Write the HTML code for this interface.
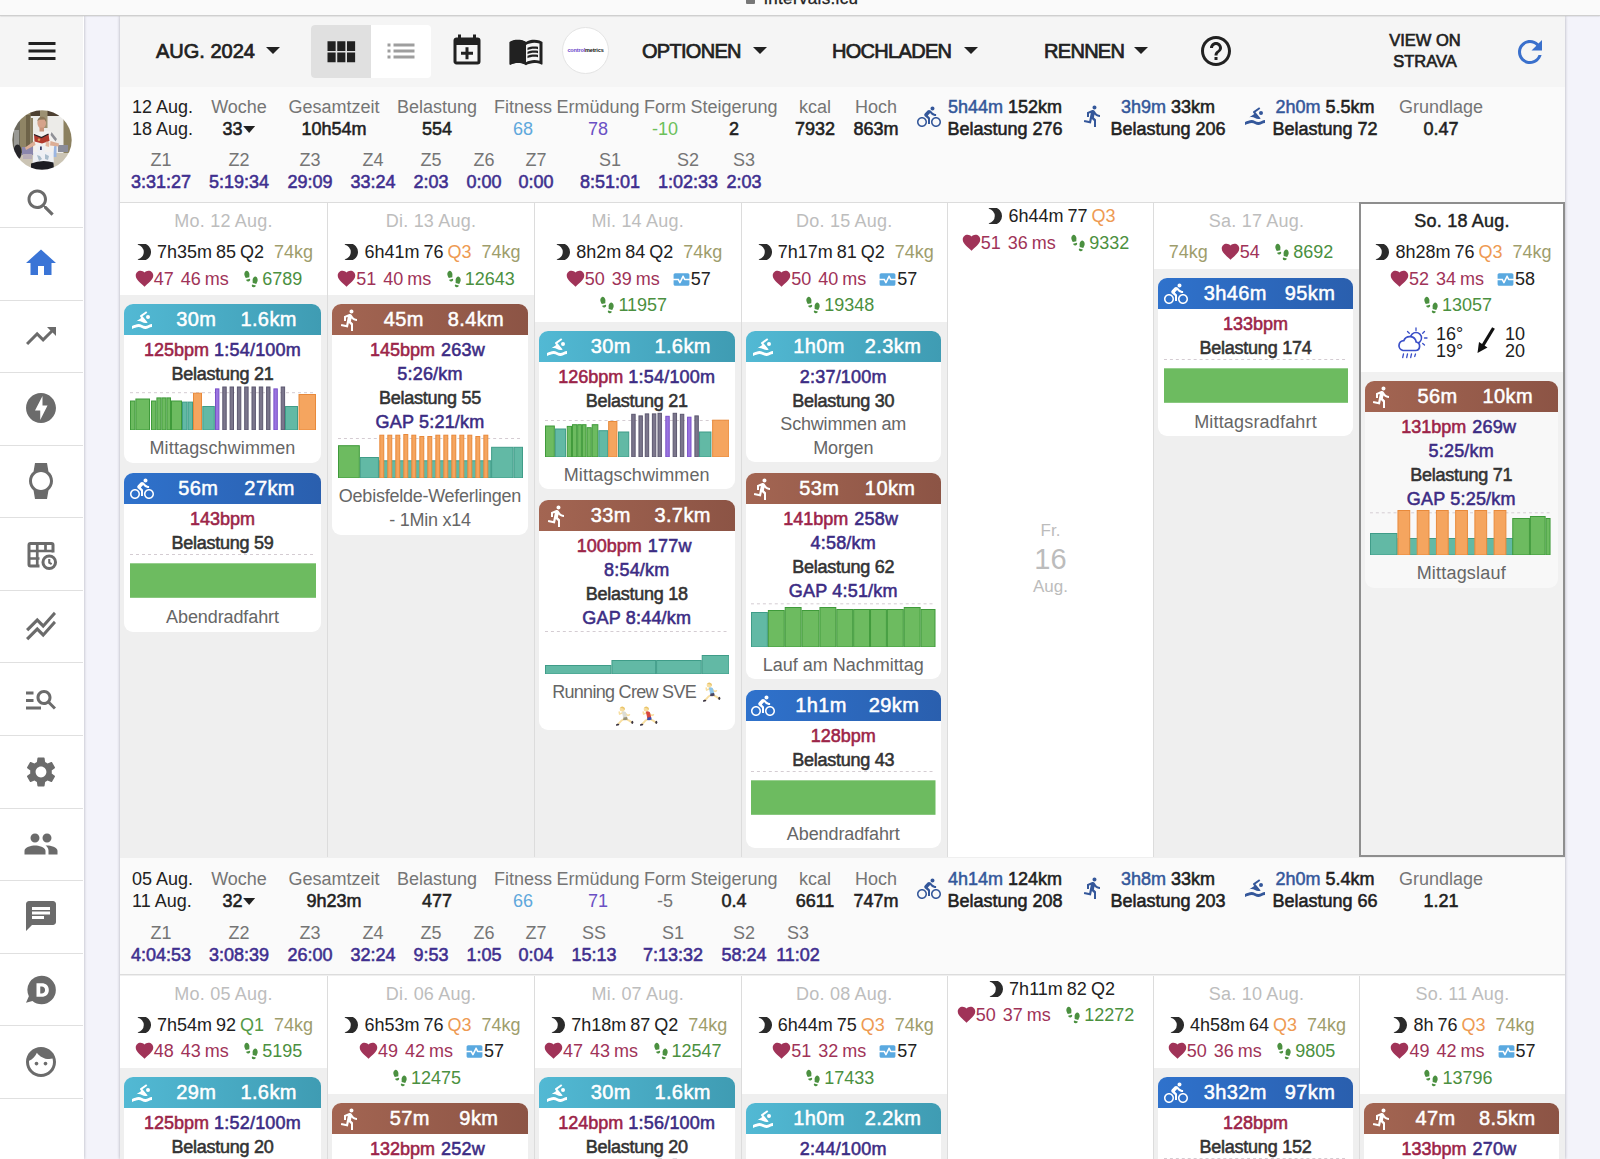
<!DOCTYPE html>
<html lang="de"><head><meta charset="utf-8"><title>intervals.icu</title>
<style>
*{box-sizing:border-box}
html,body{margin:0;padding:0}
body{width:1600px;height:1159px;overflow:hidden;background:#f3f3fa;font-family:"Liberation Sans",sans-serif;font-size:18px;color:#212121;position:relative;line-height:22px}
.ic{display:inline-block;vertical-align:middle}
#top{position:absolute;left:0;top:0;width:1600px;height:16px;background:#fafafa;border-bottom:1px solid #cfcfcf;box-shadow:0 0 1.500px rgba(0,0,0,.25);z-index:5;overflow:hidden}
#top .url{position:absolute;left:746px;top:-12.500px;font-size:17px;color:#222;white-space:nowrap;letter-spacing:.35px;-webkit-text-stroke:.3px #222}
#top .url svg{margin-right:4px}
#side{position:absolute;left:0;top:16px;width:83.500px;height:1143px;background:#fff;box-shadow:0 0 3px rgba(0,0,20,.28);z-index:2}
#side .burger{position:absolute;left:0;top:0;width:83px;height:71px;background:#f5f5f5}
#side .burger svg{position:absolute;left:24px;top:17px}
#side .avatar{position:absolute;left:12px;top:94px;width:60px;height:60px}
#side .sic{position:absolute;left:23px;width:36px;height:36px}
#side .sic svg{display:block}
#side .ssep{position:absolute;left:0;width:83px;height:1px;background:#e0e0e0}
#main{position:absolute;left:120px;top:16px;width:1445px;height:1143px;background:#efefef;box-shadow:0 0 3px rgba(0,0,20,.3)}
#mi{position:absolute;left:0;top:0;width:1445px;height:1143px;overflow:hidden}
#tb{position:absolute;left:0;top:0;width:1445px;height:71px;background:#f5f5f5}
.tbt{position:absolute;top:23px;font-size:20px;font-weight:400;-webkit-text-stroke:.7px #212121;line-height:24px;color:#212121;white-space:nowrap;letter-spacing:-.7px}
.tbt.d{letter-spacing:0}
.caret{position:absolute;top:31px;width:0;height:0;border-left:7px solid transparent;border-right:7px solid transparent;border-top:7px solid #212121}
.tog{position:absolute;left:191px;top:9px;width:120px;height:53px;border-radius:4px;overflow:hidden;background:#fff}
.tog .t1{position:absolute;left:0;top:0;width:60px;height:53px;background:#e0e0e0}
.tog .t1 svg{position:absolute;left:9.500px;top:7.500px}
.tog .t2{position:absolute;left:60px;top:0;width:60px;height:53px}
.tog .t2 svg{position:absolute;left:12px;top:8px}
.tic{position:absolute;width:36px;height:36px}
.tic svg{display:block}
.logo{position:absolute;left:442px;top:11px;width:47px;height:47px;border-radius:50%;background:#fff;border:1px solid #e4e4e4;text-align:center;font-size:5.500px;line-height:44px;font-weight:700;letter-spacing:-.15px;white-space:nowrap}
.logo .l1{color:#6a3fc8}.logo .l2{color:#111}
.strava{position:absolute;left:1255px;top:14px;width:100px;text-align:center;font-size:16.500px;font-weight:400;-webkit-text-stroke:.65px #212121;line-height:21px;color:#212121}
.ws{position:absolute;left:0;width:1445px;height:116px;background:#fafafa;border-bottom:1px solid #dcdcdc}
.ws .wd{position:absolute;white-space:nowrap;color:#212121}
.ws .wi{position:absolute;transform:translateX(-50%);text-align:center;white-space:nowrap}
.ws .l{color:#757575}
.ws .v{font-weight:400;-webkit-text-stroke:.55px;font-size:18px;color:#212121}
.ws .v.n{-webkit-text-stroke:0}
.ws .sb{color:#34579a;-webkit-text-stroke:.5px}
.ws .z{color:#3f2f8f;-webkit-text-stroke:.55px}
.ws .wic{position:absolute}
.car2{display:inline-block;width:0;height:0;border-left:6px solid transparent;border-right:6px solid transparent;border-top:7px solid #212121;margin-left:1px;vertical-align:2px}
.dr{position:absolute;left:0;width:1445px}
.dc{position:absolute;top:0;height:100%;border-left:1px solid #dcdcdc}
.dc:first-child{border-left:none}
.dc.wh{background:#fff}
.dc.today{border:2px solid #8e8e8e;background:#f1f1f1;top:-1px;height:calc(100% + 1px)}
.dc.today .dh{padding-top:5px}
.dc.today .cd{background:#f8f8f8}
.dc.today .cds{padding-left:3.500px;padding-right:5px}
.dh{background:#fff;text-align:center;padding:6px 0 3px;white-space:nowrap}
.dc.wh .dh{padding-top:0}
.dd{color:#bdbdbd;height:30px;line-height:24px;padding-top:0;letter-spacing:.2px}
.dd.td{color:#212121;-webkit-text-stroke:.45px}
.dl{height:26.500px;line-height:26px;word-spacing:-1px}
.dl svg{vertical-align:-4px}
.dl svg.mo{vertical-align:-2px;margin-right:5.500px;margin-left:3px}
.hr svg{margin-right:-1px}
.hv{margin-left:7px}
.kg{color:#9e9d6c;margin-left:6px}
.hr{color:#a03358}
.st{color:#4b9040;margin-left:12.500px;margin-right:11px}
.st svg{margin-right:1px}
.rd{margin-left:12px}
.cds{padding:9px 6px 0 4px}
.cd{border-radius:9px;background:#fff;overflow:hidden;margin-bottom:10.500px}
.ch1{height:31px;line-height:30px;color:#fff;font-size:20px;font-weight:400;-webkit-text-stroke:.5px #fff;white-space:nowrap;position:relative;text-align:left}
.ch1 svg{position:absolute;left:5.500px;top:4px}
.ch1 .tx{position:absolute;left:28px;right:0;top:0;height:31px;display:flex;justify-content:space-evenly}
.ch1 .du,.ch1 .di{letter-spacing:.4px}
.swim .ch1{background:linear-gradient(90deg,#52b9d4,#3f9cb3)}
.bike .ch1{background:linear-gradient(90deg,#2f72cc,#2a5fae)}
.run .ch1{background:linear-gradient(90deg,#a36552,#8c5445)}
.cb{text-align:center;padding:3px 0 2.500px}
.ln{height:24px;line-height:24px;white-space:nowrap;font-weight:400;-webkit-text-stroke:.55px;font-size:18px}
.bp{color:#9c2448}
.pc{color:#3c2c84;letter-spacing:.2px}
.ld{color:#333;letter-spacing:-.25px}
.ch{display:block;margin:-2px auto 0;width:calc(100% - 11px)}
.nm{color:#666;line-height:24px;margin-top:-1px;white-space:nowrap;letter-spacing:.15px}
.big{position:absolute;left:0;right:0;top:317px;text-align:center;color:#bcbcbc;font-size:17px;line-height:22px}
.big .bn{font-size:29px;line-height:34px}
.wx{position:relative;margin-top:2px;height:43px;margin-bottom:5.500px;line-height:17.700px;font-size:18px;color:#212121;text-align:left}
.wx>*{position:absolute}
.emo{vertical-align:-4px}
.e1,.e2{letter-spacing:0}
.e1{margin-left:2px}
.e2 svg{margin:0 2.500px}

.ch+.nm{margin-top:6px}
.ln.bw{padding-right:5px;word-spacing:1px}

</style></head><body>
<div id="top"><span class="url"><svg width="9" height="11" viewBox="0 0 9 11"><rect x="0" y="4" width="9" height="7" rx="1" fill="#777"/></svg> intervals.icu</span></div>
<div id="side">
<div class="burger"><svg class="ic" width="36" height="36" viewBox="0 0 24 24" style="" fill="#212121"><path d="M3 18h18v-2H3v2zm0-5h18v-2H3v2zm0-7v2h18V6H3z"/></svg></div>
<div class="avatar"><svg width="60" height="60" viewBox="0 0 60 60">
<defs><clipPath id="avc"><circle cx="30" cy="30" r="29.700"/></clipPath><filter id="avb" x="-5%" y="-5%" width="110%" height="110%"><feGaussianBlur stdDeviation=".55"/></filter></defs>
<g clip-path="url(#avc)"><g filter="url(#avb)">
<rect x="-2" y="-2" width="64" height="64" fill="#ecebe8"/>
<rect x="-2" y="-2" width="64" height="8" fill="#4d4130"/>
<rect x="-2" y="4" width="11" height="58" fill="#6c695d"/>
<rect x="8" y="3" width="10.500" height="46" fill="#8f8465"/>
<rect x="14" y="5" width="4.500" height="42" fill="#6e6349"/>
<rect x="18.500" y="8" width="2.500" height="36" fill="#8b8062"/>
<rect x="28" y="-2" width="7.500" height="20" fill="#9c9173"/>
<rect x="51.500" y="6" width="10" height="56" fill="#8b805f"/>
<rect x="-2" y="43" width="64" height="20" fill="#cbc4b4"/>
<rect x="2" y="20" width="5" height="18" fill="#9a9a96"/>
<ellipse cx="5.500" cy="42" rx="4.200" ry="7.500" fill="#25252a"/>
<rect x="10" y="37" width="11" height="8" fill="#8b87ad"/>
<rect x="11" y="44" width="9" height="5" fill="#b8aeb8"/>
<rect x="46" y="35" width="10" height="7" fill="#8a8c99"/>
<rect x="39" y="35" width="5.500" height="12" fill="#9bb6e2"/>
<path d="M21 25Q30 19 40 22L45 29 42 37 41 53 21 53 22 38Z" fill="#f3f1ef"/>
<path d="M39.500 22L45 29 43.500 31.500 38.500 25Z" fill="#8f9096"/>
<path d="M22 24.500L29.500 27.500 36.500 24 37.500 31 30 33.500 22.500 31.500Z" fill="#b23a2f"/>
<path d="M22 24.500L29.500 27.500 36.500 24" fill="none" stroke="#2a2226" stroke-width="1.300"/>
<circle cx="27" cy="29.700" r="1.300" fill="#d9a05a"/>
<path d="M22.500 31L13 37.500 14 40 23.500 35Z" fill="#dcae96"/>
<path d="M38.500 31L47 33.500 46.500 36.500 38 35.500Z" fill="#dcae96"/>
<path d="M34 31.500L37.500 32.500 37 37 33.500 36Z" fill="#e3b8a2"/>
<rect x="25.500" y="35.500" width="7" height="6" fill="#eceff6"/>
<rect x="28" y="36.500" width="1.800" height="3.500" fill="#3a3f68"/>
<path d="M21.500 42L41 42 42 54 20.500 54Z" fill="#eef0f4"/>
<path d="M25 45l3 1 2 3-3 2zM33 44l4 2-1 4-3-1z" fill="#a9bccb"/>
<path d="M19 53.500Q30 49 41.500 52.500L42 62 19 62Z" fill="#1d1d22"/>
<ellipse cx="29.700" cy="13" rx="4.300" ry="5.600" fill="#d5a38b"/>
<path d="M25.200 11.500Q26 6.500 30.500 6.800 34.300 7.300 34.200 12L32.500 9.500 27 9.800Z" fill="#8a7658"/>
<rect x="27.500" y="17.500" width="4.500" height="4" fill="#c9957c"/>
</g></g></svg></div>
<div class="sic" style="top:169px"><svg class="ic" width="36" height="36" viewBox="0 0 24 24" style="" fill="#6b6b6b"><path d="M15.5 14h-.79l-.28-.27C15.41 12.59 16 11.11 16 9.5 16 5.91 13.09 3 9.5 3S3 5.91 3 9.5 5.91 16 9.5 16c1.61 0 3.09-.59 4.23-1.57l.27.28v.79l5 4.99L20.49 19l-4.99-5zm-6 0C7.01 14 5 11.99 5 9.5S7.01 5 9.5 5 14 7.01 14 9.5 11.99 14 9.5 14z"/></svg></div>
<div class="sic" style="top:229px"><svg class="ic" width="36" height="36" viewBox="0 0 24 24" style="" fill="#3a74d6"><path d="M10 20v-6h4v6h5v-8h3L12 3 2 12h3v8z"/></svg></div>
<div class="sic" style="top:302px"><svg class="ic" width="36" height="36" viewBox="0 0 24 24" style="" fill="#6b6b6b"><path d="M16 6l2.29 2.29-4.88 4.88-4-4L2 16.59 3.41 18l6-6 4 4 6.3-6.29L22 12V6z"/></svg></div>
<div class="sic" style="top:374px"><svg class="ic" width="36" height="36" viewBox="0 0 24 24" style="" fill="#6b6b6b"><path d="M12 2.02c-5.51 0-9.98 4.47-9.98 9.98s4.47 9.98 9.98 9.98 9.98-4.47 9.98-9.98S17.51 2.02 12 2.02zM11.48 20v-6.26H8L13 4v6.26h3.35L11.48 20z"/></svg></div>
<div class="sic" style="top:447px"><svg class="ic" width="36" height="36" viewBox="0 0 24 24" style="" fill="#6b6b6b"><path d="M20 12c0-2.54-1.19-4.81-3.04-6.27L16 0H8l-.95 5.73C5.19 7.19 4 9.45 4 12s1.19 4.81 3.05 6.27L8 24h8l.96-5.73C18.81 16.81 20 14.54 20 12zM6 12c0-3.31 2.69-6 6-6s6 2.69 6 6-2.69 6-6 6-6-2.69-6-6z"/></svg></div>
<div class="sic" style="top:520px"><svg class="ic" width="36" height="36" viewBox="0 0 24 24" fill="none" stroke="#6b6b6b" stroke-width="2"><path d="M11 20H5a1 1 0 0 1-1-1V6a1 1 0 0 1 1-1h14a1 1 0 0 1 1 1v5"/><path d="M4 10h16M4 15h7M9.500 5v15M15 5v5.500" stroke-width="1.800"/><circle cx="17.500" cy="17.500" r="4.200" fill="#fff"/><path d="M17.500 15.300v2.400l1.600 1" stroke-width="1.400"/></svg></div>
<div class="sic" style="top:592px"><svg class="ic" width="36" height="36" viewBox="0 0 24 24" style="" fill="#6b6b6b"><path d="M2 19.99l7.5-7.51 4 4 7.09-7.97L22 9.92l-8.5 9.56-4-4-6 6.01-1.5-1.5zm1.5-4.5l6-6.01 4 4L22 3.92l-1.41-1.41-7.09 7.97-4-4L2 13.99l1.5 1.5z"/></svg></div>
<div class="sic" style="top:665px"><svg class="ic" width="36" height="36" viewBox="0 0 24 24" style="" fill="#6b6b6b"><path d="M7 9H2V7h5v2zm0 3H2v2h5v-2zm13.59 7l-3.83-3.83c-.8.52-1.74.83-2.76.83-2.76 0-5-2.24-5-5s2.24-5 5-5 5 2.24 5 5c0 1.02-.31 1.96-.83 2.75L22 17.59 20.59 19zM17 11c0-1.65-1.35-3-3-3s-3 1.35-3 3 1.35 3 3 3 3-1.35 3-3zM2 19h10v-2H2v2z"/></svg></div>
<div class="sic" style="top:738px"><svg class="ic" width="36" height="36" viewBox="0 0 24 24" style="" fill="#6b6b6b"><path d="M19.14 12.94c.04-.3.06-.61.06-.94 0-.32-.02-.64-.07-.94l2.03-1.58c.18-.14.23-.41.12-.61l-1.92-3.32c-.12-.22-.37-.29-.59-.22l-2.39.96c-.5-.38-1.03-.7-1.62-.94l-.36-2.54c-.04-.24-.24-.41-.48-.41h-3.84c-.24 0-.43.17-.47.41l-.36 2.54c-.59.24-1.13.57-1.62.94l-2.39-.96c-.22-.08-.47 0-.59.22L2.74 8.87c-.12.21-.08.47.12.61l2.03 1.58c-.05.3-.09.63-.09.94s.02.64.07.94l-2.03 1.58c-.18.14-.23.41-.12.61l1.92 3.32c.12.22.37.29.59.22l2.39-.96c.5.38 1.03.7 1.62.94l.36 2.54c.05.24.24.41.48.41h3.84c.24 0 .44-.17.47-.41l.36-2.54c.59-.24 1.13-.56 1.62-.94l2.39.96c.22.08.47 0 .59-.22l1.92-3.32c.12-.22.07-.47-.12-.61l-2.01-1.58zM12 15.6c-1.98 0-3.6-1.62-3.6-3.6s1.62-3.6 3.6-3.6 3.6 1.62 3.6 3.6-1.62 3.6-3.6 3.6z"/></svg></div>
<div class="sic" style="top:810px"><svg class="ic" width="36" height="36" viewBox="0 0 24 24" style="" fill="#6b6b6b"><path d="M16 11c1.66 0 2.99-1.34 2.99-3S17.66 5 16 5c-1.66 0-3 1.34-3 3s1.34 3 3 3zm-8 0c1.66 0 2.99-1.34 2.99-3S9.66 5 8 5C6.34 5 5 6.34 5 8s1.34 3 3 3zm0 2c-2.33 0-7 1.17-7 3.5V19h14v-2.5c0-2.33-4.67-3.5-7-3.5zm8 0c-.29 0-.62.02-.97.05 1.16.84 1.97 1.97 1.97 3.45V19h6v-2.5c0-2.33-4.67-3.5-7-3.5z"/></svg></div>
<div class="sic" style="top:882px"><svg class="ic" width="36" height="36" viewBox="0 0 24 24" style="" fill="#6b6b6b"><path d="M20 2H4c-1.1 0-1.99.9-1.99 2L2 22l4-4h14c1.1 0 2-.9 2-2V4c0-1.1-.9-2-2-2zM6 9h12v2H6V9zm8 5H6v-2h8v2zm4-6H6V6h12v2z"/></svg></div>
<div class="sic" style="top:956px"><svg class="ic" width="36" height="36" viewBox="0 0 24 24" fill="#6b6b6b"><path d="M12.400 2.500a9.500 9.500 0 1 1 0 19c-2.300 0-4.400-.800-6.100-2.200L2 20.500l1.900-4.300A9.500 9.500 0 0 1 12.400 2.500z"/><path d="M9 7.500h3.400c3 0 4.800 1.800 4.800 4.500s-1.800 4.500-4.800 4.500H9zm2.500 2.200v4.600h.9c1.400 0 2.300-.800 2.300-2.300s-.9-2.300-2.300-2.300z" fill="#fff"/></svg></div>
<div class="sic" style="top:1028px"><svg class="ic" width="36" height="36" viewBox="0 0 24 24" style="" fill="#6b6b6b"><path d="M9 11.75c-.69 0-1.25.56-1.25 1.25s.56 1.25 1.25 1.25 1.25-.56 1.25-1.25-.56-1.25-1.25-1.25zm6 0c-.69 0-1.25.56-1.25 1.25s.56 1.25 1.25 1.25 1.25-.56 1.25-1.25-.56-1.25-1.25-1.25zM12 2C6.48 2 2 6.48 2 12s4.48 10 10 10 10-4.48 10-10S17.52 2 12 2zm0 18c-4.41 0-8-3.59-8-8 0-.29.02-.58.05-.86 2.36-1.05 4.23-2.98 5.21-5.37C11.07 8.33 14.05 10 17.42 10c.78 0 1.53-.09 2.25-.26.21.71.33 1.47.33 2.26 0 4.41-3.59 8-8 8z"/></svg></div>
<div class="ssep" style="top:211px"></div>
<div class="ssep" style="top:284px"></div>
<div class="ssep" style="top:356px"></div>
<div class="ssep" style="top:429px"></div>
<div class="ssep" style="top:501px"></div>
<div class="ssep" style="top:574px"></div>
<div class="ssep" style="top:646px"></div>
<div class="ssep" style="top:719px"></div>
<div class="ssep" style="top:792px"></div>
<div class="ssep" style="top:864px"></div>
<div class="ssep" style="top:937px"></div>
<div class="ssep" style="top:1009px"></div>
<div class="ssep" style="top:1082px"></div>
</div>
<div id="main"><div id="mi">
<div id="tb">
<div class="tbt d" style="left:36px">AUG. 2024</div><div class="caret" style="left:146px"></div>
<div class="tog"><div class="t1"><svg class="ic" width="39" height="39" viewBox="0 0 24 24" style="" fill="#212121"><path d="M4 11h5V5H4v6zm0 7h5v-6H4v6zm6 0h5v-6h-5v6zm6 0h5v-6h-5v6zm-6-7h5V5h-5v6zm6-6v6h5V5h-5z"/></svg></div><div class="t2"><svg class="ic" width="36" height="36" viewBox="0 0 24 24" style="" fill="#9e9e9e"><path d="M3 13h2v-2H3v2zm0 4h2v-2H3v2zm0-8h2V7H3v2zm4 4h14v-2H7v2zm0 4h14v-2H7v2zM7 7v2h14V7H7z"/></svg></div></div>
<div class="tic" style="left:329px;top:16.500px"><svg class="ic" width="36" height="36" viewBox="0 0 24 24" style="" fill="#212121"><path d="M19 19V8H5V19H19M16 1H18V3H19A2 2 0 0 1 21 5V19A2 2 0 0 1 19 21H5C3.89 21 3 20.1 3 19V5C3 3.89 3.89 3 5 3H6V1H8V3H16V1M11 9.5H13V12.5H16V14.5H13V17.5H11V14.5H8V12.5H11V9.5Z"/></svg></div>
<div class="tic" style="left:388px;top:17px"><svg class="ic" width="36" height="36" viewBox="0 0 24 24" fill="#212121"><path d="M1.200 6.200C3 5 5 4.600 6.800 4.600c1.900 0 3.800.4 5.200 1.400v15.200c-1.400-.9-3.300-1.300-5.200-1.300-1.800 0-3.800.4-5.600 1.300z"/><path d="M21 5c-1.110-.350-2.330-.5-3.5-.5-1.950 0-4.050.4-5.5 1.500-1.450-1.100-3.550-1.500-5.500-1.500S2.450 4.900 1 6v14.650c0 .250.250.5.5.5.100 0 .150-.050.250-.050C3.100 20.450 5.050 20 6.500 20c1.950 0 4.050.4 5.500 1.500 1.350-.850 3.800-1.500 5.500-1.500 1.650 0 3.350.3 4.750 1.050.100.050.150.050.250.050.250 0 .5-.250.5-.5V6c-.6-.450-1.250-.750-2-1zm0 13.500c-1.100-.350-2.300-.5-3.500-.5-1.700 0-4.150.650-5.500 1.500V8c1.350-.850 3.800-1.500 5.500-1.500 1.200 0 2.400.150 3.500.5v11.500z"/><path d="M17.5 10.500c.880 0 1.730.090 2.500.260V9.240c-.790-.150-1.640-.240-2.500-.240-1.700 0-3.240.290-4.500.830v1.660c1.130-.640 2.700-.990 4.500-.990zM13 12.490v1.660c1.130-.640 2.700-.990 4.500-.990.880 0 1.730.090 2.500.260V11.900c-.790-.150-1.640-.240-2.500-.240-1.700 0-3.240.3-4.500.830zM17.500 14.330c-1.700 0-3.240.290-4.500.830v1.660c1.130-.640 2.700-.990 4.500-.990.880 0 1.730.090 2.500.260v-1.520c-.790-.160-1.640-.240-2.500-.240z"/></svg></div>
<div class="logo"><span class="l1">control</span><span class="l2">metrics</span></div>
<div class="tbt" style="left:522px">OPTIONEN</div><div class="caret" style="left:633px"></div>
<div class="tbt" style="left:712px">HOCHLADEN</div><div class="caret" style="left:844px"></div>
<div class="tbt" style="left:924px">RENNEN</div><div class="caret" style="left:1014px"></div>
<div class="tic" style="left:1078px;top:17px"><svg class="ic" width="36" height="36" viewBox="0 0 24 24" style="" fill="#212121"><path d="M11 18h2v-2h-2v2zm1-16C6.48 2 2 6.48 2 12s4.48 10 10 10 10-4.48 10-10S17.52 2 12 2zm0 18c-4.41 0-8-3.59-8-8s3.59-8 8-8 8 3.59 8 8-3.59 8-8 8zm0-14c-2.21 0-4 1.79-4 4h2c0-1.1.9-2 2-2s2 .9 2 2c0 2-3 1.75-3 5h2c0-2.25 3-2.5 3-5 0-2.21-1.79-4-4-4z"/></svg></div>
<div class="strava">VIEW ON<br>STRAVA</div>
<div class="tic" style="left:1392px;top:17.500px"><svg class="ic" width="36" height="36" viewBox="0 0 24 24" style="" fill="#3a70cc"><path d="M17.65 6.35C16.2 4.9 14.21 4 12 4c-4.42 0-7.99 3.58-7.99 8s3.57 8 7.99 8c3.73 0 6.84-2.55 7.73-6h-2.08c-.82 2.33-3.04 4-5.65 4-3.31 0-6-2.69-6-6s2.69-6 6-6c1.66 0 3.14.69 4.22 1.78L13 11h7V4l-2.35 2.35z"/></svg></div>
</div>
<div class="ws" style="top:71px;height:116px">
<div class="wd" style="left:12px;top:9px">12 Aug.<br>18 Aug.</div>
<div class="wi" style="left:119px;top:9px"><span class="l">Woche</span><br><span class="v">33<i class="car2"></i></span></div>
<div class="wi" style="left:214px;top:9px"><span class="l">Gesamtzeit</span><br><span class="v">10h54m</span></div>
<div class="wi" style="left:317px;top:9px"><span class="l">Belastung</span><br><span class="v">554</span></div>
<div class="wi" style="left:403px;top:9px"><span class="l">Fitness</span><br><span class="v n" style="color:#5fa8dc">68</span></div>
<div class="wi" style="left:478px;top:9px"><span class="l">Ermüdung</span><br><span class="v n" style="color:#6a4fc4">78</span></div>
<div class="wi" style="left:545px;top:9px"><span class="l">Form</span><br><span class="v n" style="color:#6cc05a">-10</span></div>
<div class="wi" style="left:614px;top:9px"><span class="l">Steigerung</span><br><span class="v">2</span></div>
<div class="wi" style="left:695px;top:9px"><span class="l">kcal</span><br><span class="v">7932</span></div>
<div class="wi" style="left:756px;top:9px"><span class="l">Hoch</span><br><span class="v">863m</span></div>
<div class="wic" style="left:797px;top:18px"><svg class="ic" width="24" height="24" viewBox="0 0 24 24" style="" fill="#34579a"><path d="M15.5 5.5c1.1 0 2-.9 2-2s-.9-2-2-2-2 .9-2 2 .9 2 2 2zM5 12c-2.8 0-5 2.2-5 5s2.2 5 5 5 5-2.2 5-5-2.2-5-5-5zm0 8.5c-1.9 0-3.5-1.6-3.5-3.5s1.6-3.5 3.5-3.5 3.5 1.6 3.5 3.5-1.6 3.5-3.5 3.5zm5.8-10l2.4-2.4.8.8c1.3 1.3 3 2.1 5.1 2.1V9c-1.5 0-2.7-.6-3.6-1.5l-1.9-1.9c-.5-.4-1-.6-1.6-.6s-1.1.2-1.4.6L7.800 8.400c-.4.4-.6.9-.6 1.4 0 .6.2 1.100.6 1.400L11 14v5h2v-6.200l-2.200-2.300zM19 12c-2.800 0-5 2.200-5 5s2.200 5 5 5 5-2.200 5-5-2.200-5-5-5zm0 8.500c-1.900 0-3.500-1.600-3.500-3.500s1.600-3.500 3.500-3.500 3.500 1.600 3.500 3.500-1.600 3.500-3.500 3.500z"/></svg></div>
<div class="wi" style="left:885px;top:9px"><span class="sb">5h44m</span> <span class="v">152km</span><br><span class="v">Belastung 276</span></div>
<div class="wic" style="left:961px;top:17px"><svg class="ic" width="24" height="24" viewBox="0 0 24 24" style="" fill="#34579a"><path d="M13.49 5.48c1.1 0 2-.9 2-2s-.9-2-2-2-2 .9-2 2 .9 2 2 2zm-3.600 13.900l1-4.400 2.100 2v6h2v-7.500l-2.100-2 .6-3c1.300 1.500 3.300 2.500 5.500 2.500v-2c-1.900 0-3.500-1-4.300-2.400l-1-1.600c-.4-.6-1-1-1.700-1-.3 0-.5.100-.8.100l-5.200 2.200v4.700h2v-3.400l1.800-.7-1.600 8.100-4.900-1-.4 2 7 1.400z"/></svg></div>
<div class="wi" style="left:1048px;top:9px"><span class="sb">3h9m</span> <span class="v">33km</span><br><span class="v">Belastung 206</span></div>
<div class="wic" style="left:1123px;top:17px"><svg class="ic" width="24" height="24" viewBox="0 0 24 24" style="" fill="#34579a"><path d="M2,18C4.22,17 6.44,16 8.67,16C10.89,16 13.11,18 15.33,18C17.56,18 19.78,16 22,16V19C19.78,19 17.56,21 15.33,21C13.11,21 10.89,19 8.67,19C6.44,19 4.22,20 2,21V18M8.67,13C7.89,13 7.12,13.12 6.35,13.32L11.27,9.88L10.23,8.64C10.09,8.47 10,8.24 10,8C10,7.66 10.17,7.35 10.44,7.17L16.16,3.17L17.31,4.8L12.47,8.19L17.7,14.42C16.91,14.75 16.12,15 15.33,15C13.11,15 10.89,13 8.67,13M18,7A2,2 0 0,1 20,9A2,2 0 0,1 18,11A2,2 0 0,1 16,9A2,2 0 0,1 18,7Z"/></svg></div>
<div class="wi" style="left:1205px;top:9px"><span class="sb">2h0m</span> <span class="v">5.5km</span><br><span class="v">Belastung 72</span></div>
<div class="wi" style="left:1321px;top:9px"><span class="l">Grundlage</span><br><span class="v">0.47</span></div>
<div class="wi" style="left:41px;top:62px"><span class="l">Z1</span><br><span class="z">3:31:27</span></div>
<div class="wi" style="left:119px;top:62px"><span class="l">Z2</span><br><span class="z">5:19:34</span></div>
<div class="wi" style="left:190px;top:62px"><span class="l">Z3</span><br><span class="z">29:09</span></div>
<div class="wi" style="left:253px;top:62px"><span class="l">Z4</span><br><span class="z">33:24</span></div>
<div class="wi" style="left:311px;top:62px"><span class="l">Z5</span><br><span class="z">2:03</span></div>
<div class="wi" style="left:364px;top:62px"><span class="l">Z6</span><br><span class="z">0:00</span></div>
<div class="wi" style="left:416px;top:62px"><span class="l">Z7</span><br><span class="z">0:00</span></div>
<div class="wi" style="left:490px;top:62px"><span class="l">S1</span><br><span class="z">8:51:01</span></div>
<div class="wi" style="left:568px;top:62px"><span class="l">S2</span><br><span class="z">1:02:33</span></div>
<div class="wi" style="left:624px;top:62px"><span class="l">S3</span><br><span class="z">2:03</span></div>
</div>
<div class="dr" style="top:187px;height:654px">
<div class="dc " style="left:0px;width:207px"><div class="dh"><div class="dd">Mo. 12 Aug.</div><div class="dl"><svg class="ic mo" width="14.500" height="16" viewBox="0 0 15 16.400"><path d="M.5 .6A9.060 9.060 0 1 1 .5 15.800A7.690 7.690 0 0 0 .5 .6Z" fill="#2b2b2b"/></svg><span class="sl">7h35m</span> <span class="sl">85</span> <span style="color:#212121">Q2</span> <span class="kg">74kg</span></div><div class="dl"><span class="hr"><svg class="ic" width="21" height="21" viewBox="0 0 24 24" style="" fill="#a03358"><path d="M12 21.35l-1.45-1.32C5.4 15.36 2 12.28 2 8.5 2 5.42 4.42 3 7.5 3c1.74 0 3.41.81 4.5 2.09C13.09 3.81 14.76 3 16.5 3 19.58 3 22 5.42 22 8.5c0 3.78-3.4 6.86-8.55 11.54L12 21.35z"/></svg>47<span class="hv">46 ms</span></span><span class="st"><svg class="ic" width="20" height="20" viewBox="0 0 24 24" style="" fill="#4b9040"><path d="M10.74,11.72C11.21,12.95 11.16,14.23 9.75,14.74C6.85,15.81 6.2,13 6.16,12.86L10.74,11.72M5.71,10.91L10.03,9.84C9.84,8.79 10.13,7.74 10.13,6.5C10.13,4.82 8.8,1.53 6.68,2.06C4.26,2.66 3.91,5.35 4,6.65C4.12,7.95 5.64,10.73 5.71,10.91M17.85,19.85C17.82,20 17.16,22.8 14.26,21.74C12.86,21.22 12.8,19.94 13.27,18.71L17.85,19.85M20,13.65C20.1,12.35 19.76,9.65 17.33,9.05C15.22,8.5 13.89,11.81 13.89,13.5C13.89,14.73 14.17,15.78 14,16.83L18.3,17.9C18.38,17.72 19.89,14.94 20,13.65Z"/></svg>6789</span></div></div><div class="cds"><div class="cd swim"><div class="ch1"><svg class="ic" width="24" height="24" viewBox="0 0 24 24" style="" fill="#fff"><path d="M2,18C4.22,17 6.44,16 8.67,16C10.89,16 13.11,18 15.33,18C17.56,18 19.78,16 22,16V19C19.78,19 17.56,21 15.33,21C13.11,21 10.89,19 8.67,19C6.44,19 4.22,20 2,21V18M8.67,13C7.89,13 7.12,13.12 6.35,13.32L11.27,9.88L10.23,8.64C10.09,8.47 10,8.24 10,8C10,7.66 10.17,7.35 10.44,7.17L16.16,3.17L17.31,4.8L12.47,8.19L17.7,14.42C16.91,14.75 16.12,15 15.33,15C13.11,15 10.89,13 8.67,13M18,7A2,2 0 0,1 20,9A2,2 0 0,1 18,11A2,2 0 0,1 16,9A2,2 0 0,1 18,7Z"/></svg><div class="tx"><span class="du">30m</span><span class="di">1.6km</span></div></div><div class="cb"><div class="ln"><span class="bp">125bpm</span> <span class="pc">1:54/100m</span></div><div class="ln"><span class="ld">Belastung 21</span></div><svg class="ch " height="46" viewBox="0 0 186 46" preserveAspectRatio="none"><line x1="0" x2="186" y1="8.7" y2="8.7" stroke="#d4ccd2" stroke-width="1" stroke-dasharray="3 3"/><rect x="0.5" y="17.0" width="4.4" height="29.0" fill="#6dbb60" stroke="#3f9a3a" stroke-width="1"/><rect x="5.9" y="15.0" width="13.6" height="31.0" fill="#6dbb60" stroke="#3f9a3a" stroke-width="1"/><rect x="21.5" y="17.0" width="4.4" height="29.0" fill="#6dbb60" stroke="#3f9a3a" stroke-width="1"/><rect x="26.9" y="13.9" width="4" height="32.1" fill="#6dbb60" stroke="#3f9a3a" stroke-width="1"/><rect x="31.9" y="13.9" width="4" height="32.1" fill="#6dbb60" stroke="#3f9a3a" stroke-width="1"/><rect x="36.9" y="13.9" width="3.5999999999999996" height="32.1" fill="#6dbb60" stroke="#3f9a3a" stroke-width="1"/><rect x="41.5" y="17.0" width="10" height="29.0" fill="#6dbb60" stroke="#3f9a3a" stroke-width="1"/><rect x="52.5" y="18.1" width="4.5" height="27.9" fill="#62b9a5" stroke="#3f9c88" stroke-width="1"/><rect x="58.0" y="18.1" width="4.5" height="27.9" fill="#62b9a5" stroke="#3f9c88" stroke-width="1"/><rect x="63.5" y="9.2" width="8" height="36.8" fill="#f5a55f" stroke="#e8893a" stroke-width="1"/><rect x="72.8" y="22.5" width="11.5" height="23.5" fill="#62b9a5" stroke="#3f9c88" stroke-width="1"/><rect x="85.5" y="4.9" width="3.4000000000000004" height="41.1" fill="#9a74e0" stroke="#7a50c8" stroke-width="1"/><rect x="92.8" y="3.0" width="3.4000000000000004" height="43.0" fill="#7b768c" stroke="#5d5870" stroke-width="1"/><rect x="100.1" y="3.0" width="3.4000000000000004" height="43.0" fill="#7b768c" stroke="#5d5870" stroke-width="1"/><rect x="107.39999999999999" y="3.0" width="3.4000000000000004" height="43.0" fill="#7b768c" stroke="#5d5870" stroke-width="1"/><rect x="114.69999999999999" y="3.0" width="3.4000000000000004" height="43.0" fill="#7b768c" stroke="#5d5870" stroke-width="1"/><rect x="121.99999999999999" y="3.0" width="3.4000000000000004" height="43.0" fill="#7b768c" stroke="#5d5870" stroke-width="1"/><rect x="129.29999999999998" y="3.0" width="3.4000000000000004" height="43.0" fill="#7b768c" stroke="#5d5870" stroke-width="1"/><rect x="136.6" y="3.0" width="3.4000000000000004" height="43.0" fill="#7b768c" stroke="#5d5870" stroke-width="1"/><rect x="143.9" y="4.9" width="3.4000000000000004" height="41.1" fill="#9a74e0" stroke="#7a50c8" stroke-width="1"/><rect x="151.20000000000002" y="3.0" width="3.4000000000000004" height="43.0" fill="#7b768c" stroke="#5d5870" stroke-width="1"/><rect x="155.5" y="22.5" width="12" height="23.5" fill="#62b9a5" stroke="#3f9c88" stroke-width="1"/><rect x="169.0" y="10.5" width="16.5" height="35.5" fill="#f5a55f" stroke="#e8893a" stroke-width="1"/></svg><div class="nm" style="letter-spacing:0.13px">Mittagschwimmen</div></div></div><div class="cd bike"><div class="ch1"><svg class="ic" width="24" height="24" viewBox="0 0 24 24" style="" fill="#fff"><path d="M15.5 5.5c1.1 0 2-.9 2-2s-.9-2-2-2-2 .9-2 2 .9 2 2 2zM5 12c-2.8 0-5 2.2-5 5s2.2 5 5 5 5-2.2 5-5-2.2-5-5-5zm0 8.5c-1.9 0-3.5-1.6-3.5-3.5s1.6-3.5 3.5-3.5 3.5 1.6 3.5 3.5-1.6 3.5-3.5 3.5zm5.8-10l2.4-2.4.8.8c1.3 1.3 3 2.1 5.1 2.1V9c-1.5 0-2.7-.6-3.6-1.5l-1.9-1.9c-.5-.4-1-.6-1.6-.6s-1.1.2-1.4.6L7.800 8.400c-.4.4-.6.9-.6 1.4 0 .6.2 1.100.6 1.400L11 14v5h2v-6.200l-2.200-2.300zM19 12c-2.800 0-5 2.200-5 5s2.200 5 5 5 5-2.200 5-5-2.200-5-5-5zm0 8.500c-1.900 0-3.500-1.600-3.500-3.500s1.600-3.500 3.500-3.500 3.500 1.600 3.500 3.500-1.600 3.500-3.500 3.500z"/></svg><div class="tx"><span class="du">56m</span><span class="di">27km</span></div></div><div class="cb"><div class="ln"><span class="bp">143bpm</span></div><div class="ln"><span class="ld">Belastung 59</span></div><svg class="ch bk" height="46" viewBox="0 0 186 46" preserveAspectRatio="none"><line x1="0" x2="186" y1="1.500" y2="1.500" stroke="#d4ccd2" stroke-dasharray="3 3"/><rect x="0" y="10.300" width="186" height="34.5" fill="#6dbb60"/></svg><div class="nm" style="letter-spacing:-0.1px">Abendradfahrt</div></div></div></div></div>
<div class="dc " style="left:207px;width:207px"><div class="dh"><div class="dd">Di. 13 Aug.</div><div class="dl"><svg class="ic mo" width="14.500" height="16" viewBox="0 0 15 16.400"><path d="M.5 .6A9.060 9.060 0 1 1 .5 15.800A7.690 7.690 0 0 0 .5 .6Z" fill="#2b2b2b"/></svg><span class="sl">6h41m</span> <span class="sl">76</span> <span style="color:#ee9a52">Q3</span> <span class="kg">74kg</span></div><div class="dl"><span class="hr"><svg class="ic" width="21" height="21" viewBox="0 0 24 24" style="" fill="#a03358"><path d="M12 21.35l-1.45-1.32C5.4 15.36 2 12.28 2 8.5 2 5.42 4.42 3 7.5 3c1.74 0 3.41.81 4.5 2.09C13.09 3.81 14.76 3 16.5 3 19.58 3 22 5.42 22 8.5c0 3.78-3.4 6.86-8.55 11.54L12 21.35z"/></svg>51<span class="hv">40 ms</span></span><span class="st"><svg class="ic" width="20" height="20" viewBox="0 0 24 24" style="" fill="#4b9040"><path d="M10.74,11.72C11.21,12.95 11.16,14.23 9.75,14.74C6.85,15.81 6.2,13 6.16,12.86L10.74,11.72M5.71,10.91L10.03,9.84C9.84,8.79 10.13,7.74 10.13,6.5C10.13,4.82 8.8,1.53 6.68,2.06C4.26,2.66 3.91,5.35 4,6.65C4.12,7.95 5.64,10.73 5.71,10.91M17.85,19.85C17.82,20 17.16,22.8 14.26,21.74C12.86,21.22 12.8,19.94 13.27,18.71L17.85,19.85M20,13.65C20.1,12.35 19.76,9.65 17.33,9.05C15.22,8.5 13.89,11.81 13.89,13.5C13.89,14.73 14.17,15.78 14,16.83L18.3,17.9C18.38,17.72 19.89,14.94 20,13.65Z"/></svg>12643</span></div></div><div class="cds"><div class="cd run"><div class="ch1"><svg class="ic" width="24" height="24" viewBox="0 0 24 24" style="" fill="#fff"><path d="M13.49 5.48c1.1 0 2-.9 2-2s-.9-2-2-2-2 .9-2 2 .9 2 2 2zm-3.600 13.900l1-4.400 2.100 2v6h2v-7.500l-2.100-2 .6-3c1.300 1.500 3.300 2.500 5.500 2.500v-2c-1.900 0-3.500-1-4.300-2.400l-1-1.600c-.4-.6-1-1-1.700-1-.3 0-.5.100-.8.100l-5.200 2.200v4.700h2v-3.400l1.800-.7-1.600 8.100-4.900-1-.4 2 7 1.400z"/></svg><div class="tx"><span class="du">45m</span><span class="di">8.4km</span></div></div><div class="cb"><div class="ln bw"><span class="bp">145bpm</span> <span class="pc">263w</span></div><div class="ln"><span class="pc">5:26/km</span></div><div class="ln"><span class="ld">Belastung 55</span></div><div class="ln"><span class="pc">GAP 5:21/km</span></div><svg class="ch " height="46" viewBox="0 0 186 46" preserveAspectRatio="none"><line x1="0" x2="186" y1="6.5" y2="6.5" stroke="#d4ccd2" stroke-width="1" stroke-dasharray="3 3"/><rect x="0.5" y="13.7" width="20.93586956521739" height="32.3" fill="#6dbb60" stroke="#3f9a3a" stroke-width="1"/><rect x="22.43586956521739" y="25.5" width="18.206521739130437" height="20.5" fill="#62b9a5" stroke="#3f9c88" stroke-width="1"/><rect x="41.64239130434783" y="28.8" width="112.21739130434783" height="17.2" fill="#62b9a5" stroke="#3f9c88" stroke-width="1"/><rect x="42.04673913043479" y="3.2" width="3.9532608695652183" height="42.8" fill="#f5a55f" stroke="#e8893a" stroke-width="1"/><rect x="50.09326086956522" y="3.2" width="3.9532608695652183" height="42.8" fill="#f5a55f" stroke="#e8893a" stroke-width="1"/><rect x="58.13978260869566" y="3.2" width="3.9532608695652183" height="42.8" fill="#f5a55f" stroke="#e8893a" stroke-width="1"/><rect x="66.1863043478261" y="2.5" width="3.9532608695652183" height="43.5" fill="#f5a55f" stroke="#e8893a" stroke-width="1"/><rect x="74.23282608695652" y="3.2" width="3.9532608695652183" height="42.8" fill="#f5a55f" stroke="#e8893a" stroke-width="1"/><rect x="82.27934782608695" y="4.5" width="3.9532608695652183" height="41.5" fill="#f5a55f" stroke="#e8893a" stroke-width="1"/><rect x="90.32586956521737" y="4.5" width="3.9532608695652183" height="41.5" fill="#f5a55f" stroke="#e8893a" stroke-width="1"/><rect x="98.37239130434781" y="3.2" width="3.9532608695652183" height="42.8" fill="#f5a55f" stroke="#e8893a" stroke-width="1"/><rect x="106.41891304347824" y="3.2" width="3.9532608695652183" height="42.8" fill="#f5a55f" stroke="#e8893a" stroke-width="1"/><rect x="114.46543478260867" y="3.2" width="3.9532608695652183" height="42.8" fill="#f5a55f" stroke="#e8893a" stroke-width="1"/><rect x="122.5119565217391" y="3.2" width="3.9532608695652183" height="42.8" fill="#f5a55f" stroke="#e8893a" stroke-width="1"/><rect x="130.55847826086955" y="3.2" width="3.9532608695652183" height="42.8" fill="#f5a55f" stroke="#e8893a" stroke-width="1"/><rect x="138.605" y="4.5" width="3.9532608695652183" height="41.5" fill="#f5a55f" stroke="#e8893a" stroke-width="1"/><rect x="146.65152173913043" y="3.2" width="3.9532608695652183" height="42.8" fill="#f5a55f" stroke="#e8893a" stroke-width="1"/><rect x="154.4554347826087" y="15.3" width="21.542391304347827" height="30.7" fill="#62b9a5" stroke="#3f9c88" stroke-width="1"/><rect x="176.99782608695654" y="15.3" width="8.50217391304348" height="30.7" fill="#62b9a5" stroke="#3f9c88" stroke-width="1"/></svg><div class="nm" style="letter-spacing:-0.25px">Oebisfelde-Weferlingen<br>- 1Min x14</div></div></div></div></div>
<div class="dc " style="left:414px;width:206.5px"><div class="dh"><div class="dd">Mi. 14 Aug.</div><div class="dl"><svg class="ic mo" width="14.500" height="16" viewBox="0 0 15 16.400"><path d="M.5 .6A9.060 9.060 0 1 1 .5 15.800A7.690 7.690 0 0 0 .5 .6Z" fill="#2b2b2b"/></svg><span class="sl">8h2m</span> <span class="sl">84</span> <span style="color:#212121">Q2</span> <span class="kg">74kg</span></div><div class="dl"><span class="hr"><svg class="ic" width="21" height="21" viewBox="0 0 24 24" style="" fill="#a03358"><path d="M12 21.35l-1.45-1.32C5.4 15.36 2 12.28 2 8.5 2 5.42 4.42 3 7.5 3c1.74 0 3.41.81 4.5 2.09C13.09 3.81 14.76 3 16.5 3 19.58 3 22 5.42 22 8.5c0 3.78-3.4 6.86-8.55 11.54L12 21.35z"/></svg>50<span class="hv">39 ms</span></span><span class="rd"><svg class="ic" width="19" height="19" viewBox="0 0 24 24" style="" fill="#5aa9e0"><path d="M15.11 12.45L14 10.24l-3.11 6.21c-.17.34-.51.55-.89.55s-.72-.21-.89-.55L7.38 13H2v5c0 1.1.9 2 2 2h16c1.1 0 2-.9 2-2v-5h-6c-.38 0-.72-.21-.89-.55zM20 4H4c-1.1 0-2 .9-2 2v5h6c.38 0 .72.21.89.55L10 13.76l3.11-6.210c.34-.68 1.45-.68 1.79 0L16.620 11H22V6c0-1.100-.9-2-2-2z"/></svg>57</span></div><div class="dl"><span class="st" style="margin-left:0"><svg class="ic" width="20" height="20" viewBox="0 0 24 24" style="" fill="#4b9040"><path d="M10.74,11.72C11.21,12.95 11.16,14.23 9.75,14.74C6.85,15.81 6.2,13 6.16,12.86L10.74,11.72M5.71,10.91L10.03,9.84C9.84,8.79 10.13,7.74 10.13,6.5C10.13,4.82 8.8,1.53 6.68,2.06C4.26,2.66 3.91,5.35 4,6.65C4.12,7.95 5.64,10.73 5.71,10.91M17.85,19.85C17.82,20 17.16,22.8 14.26,21.74C12.86,21.22 12.8,19.94 13.27,18.71L17.85,19.85M20,13.65C20.1,12.35 19.76,9.65 17.33,9.05C15.22,8.5 13.89,11.81 13.89,13.5C13.89,14.73 14.17,15.78 14,16.83L18.3,17.9C18.38,17.72 19.89,14.94 20,13.65Z"/></svg>11957</span></div></div><div class="cds"><div class="cd swim"><div class="ch1"><svg class="ic" width="24" height="24" viewBox="0 0 24 24" style="" fill="#fff"><path d="M2,18C4.22,17 6.44,16 8.67,16C10.89,16 13.11,18 15.33,18C17.56,18 19.78,16 22,16V19C19.78,19 17.56,21 15.33,21C13.11,21 10.89,19 8.67,19C6.44,19 4.22,20 2,21V18M8.67,13C7.89,13 7.12,13.12 6.35,13.32L11.27,9.88L10.23,8.64C10.09,8.47 10,8.24 10,8C10,7.66 10.17,7.35 10.44,7.17L16.16,3.17L17.31,4.8L12.47,8.19L17.7,14.42C16.91,14.75 16.12,15 15.33,15C13.11,15 10.89,13 8.67,13M18,7A2,2 0 0,1 20,9A2,2 0 0,1 18,11A2,2 0 0,1 16,9A2,2 0 0,1 18,7Z"/></svg><div class="tx"><span class="du">30m</span><span class="di">1.6km</span></div></div><div class="cb"><div class="ln"><span class="bp">126bpm</span> <span class="pc">1:54/100m</span></div><div class="ln"><span class="ld">Belastung 21</span></div><svg class="ch " height="46" viewBox="0 0 186 46" preserveAspectRatio="none"><line x1="0" x2="186" y1="9.5" y2="9.5" stroke="#d4ccd2" stroke-width="1" stroke-dasharray="3 3"/><rect x="0.5" y="15.0" width="8.906521739130437" height="31.0" fill="#6dbb60" stroke="#3f9a3a" stroke-width="1"/><rect x="10.406521739130437" y="18.0" width="10.321739130434782" height="28.0" fill="#62b9a5" stroke="#3f9c88" stroke-width="1"/><rect x="22.43586956521739" y="15.4" width="4.256521739130435" height="30.6" fill="#6dbb60" stroke="#3f9a3a" stroke-width="1"/><rect x="27.692391304347826" y="13.7" width="4.256521739130435" height="32.3" fill="#6dbb60" stroke="#3f9a3a" stroke-width="1"/><rect x="32.948913043478264" y="13.7" width="3.75108695652174" height="32.3" fill="#6dbb60" stroke="#3f9a3a" stroke-width="1"/><rect x="37.699999999999996" y="13.7" width="3.6499999999999995" height="32.3" fill="#6dbb60" stroke="#3f9a3a" stroke-width="1"/><rect x="42.35" y="16.7" width="4.256521739130435" height="29.3" fill="#6dbb60" stroke="#3f9a3a" stroke-width="1"/><rect x="47.606521739130436" y="13.7" width="5.671739130434783" height="32.3" fill="#6dbb60" stroke="#3f9a3a" stroke-width="1"/><rect x="54.27826086956522" y="19.7" width="8.906521739130437" height="26.3" fill="#62b9a5" stroke="#3f9c88" stroke-width="1"/><rect x="64.18478260869566" y="10.5" width="8.299999999999999" height="35.5" fill="#f5a55f" stroke="#e8893a" stroke-width="1"/><rect x="74.09130434782608" y="21.0" width="10.321739130434782" height="25.0" fill="#62b9a5" stroke="#3f9c88" stroke-width="1"/><rect x="87.43478260869566" y="3.3" width="3.447826086956522" height="42.7" fill="#7b768c" stroke="#5d5870" stroke-width="1"/><rect x="94.71304347826087" y="4.9" width="3.447826086956522" height="41.1" fill="#7b768c" stroke="#5d5870" stroke-width="1"/><rect x="101.08152173913044" y="2.9" width="3.447826086956522" height="43.1" fill="#7b768c" stroke="#5d5870" stroke-width="1"/><rect x="108.25869565217391" y="2.9" width="3.447826086956522" height="43.1" fill="#7b768c" stroke="#5d5870" stroke-width="1"/><rect x="113.91956521739131" y="2.3" width="3.447826086956522" height="43.7" fill="#7b768c" stroke="#5d5870" stroke-width="1"/><rect x="121.80434782608697" y="5.3" width="3.447826086956522" height="40.7" fill="#9a74e0" stroke="#7a50c8" stroke-width="1"/><rect x="129.18369565217392" y="2.3" width="3.447826086956522" height="43.7" fill="#7b768c" stroke="#5d5870" stroke-width="1"/><rect x="136.46195652173913" y="3.3" width="3.447826086956522" height="42.7" fill="#7b768c" stroke="#5d5870" stroke-width="1"/><rect x="143.74021739130436" y="6.2" width="3.447826086956522" height="39.8" fill="#9a74e0" stroke="#7a50c8" stroke-width="1"/><rect x="151.1195652173913" y="4.9" width="3.447826086956522" height="41.1" fill="#7b768c" stroke="#5d5870" stroke-width="1"/><rect x="155.76956521739132" y="21.0" width="11.534782608695654" height="25.0" fill="#62b9a5" stroke="#3f9c88" stroke-width="1"/><rect x="169.01195652173914" y="9.2" width="16.48804347826087" height="36.8" fill="#f5a55f" stroke="#e8893a" stroke-width="1"/></svg><div class="nm" style="letter-spacing:0.13px">Mittagschwimmen</div></div></div><div class="cd run"><div class="ch1"><svg class="ic" width="24" height="24" viewBox="0 0 24 24" style="" fill="#fff"><path d="M13.49 5.48c1.1 0 2-.9 2-2s-.9-2-2-2-2 .9-2 2 .9 2 2 2zm-3.600 13.900l1-4.400 2.100 2v6h2v-7.500l-2.100-2 .6-3c1.300 1.500 3.300 2.500 5.500 2.500v-2c-1.900 0-3.500-1-4.300-2.400l-1-1.600c-.4-.6-1-1-1.700-1-.3 0-.5.100-.8.100l-5.200 2.200v4.700h2v-3.400l1.800-.7-1.600 8.100-4.900-1-.4 2 7 1.400z"/></svg><div class="tx"><span class="du">33m</span><span class="di">3.7km</span></div></div><div class="cb"><div class="ln bw"><span class="bp">100bpm</span> <span class="pc">177w</span></div><div class="ln"><span class="pc">8:54/km</span></div><div class="ln"><span class="ld">Belastung 18</span></div><div class="ln"><span class="pc">GAP 8:44/km</span></div><svg class="ch " height="46" viewBox="0 0 186 46" preserveAspectRatio="none"><line x1="0" x2="186" y1="3.5" y2="3.5" stroke="#d4ccd2" stroke-width="1" stroke-dasharray="3 3"/><rect x="0.5" y="37.5" width="66" height="8.5" fill="#62b9a5" stroke="#3f9c88" stroke-width="1"/><rect x="67.5" y="32.5" width="44" height="13.5" fill="#62b9a5" stroke="#3f9c88" stroke-width="1"/><rect x="112.5" y="32.5" width="45" height="13.5" fill="#62b9a5" stroke="#3f9c88" stroke-width="1"/><rect x="158.5" y="27.5" width="27" height="18.5" fill="#62b9a5" stroke="#3f9c88" stroke-width="1"/></svg><div class="nm" style="letter-spacing:-0.7px">Running Crew SVE <span class="e1"><svg class="emo" width="19" height="20" viewBox="0 0 19 20" role="img" aria-label="runner"><path d="M9.600 12.600L6.200 14.800 3.200 18.200" stroke="#f7dea0" stroke-width="1.900" fill="none" stroke-linecap="round" stroke-linejoin="round"/><path d="M10.800 12.800L14.200 14.600 16.800 16.400" stroke="#f7dea0" stroke-width="1.900" fill="none" stroke-linecap="round" stroke-linejoin="round"/><path d="M8 6.500L4.600 8.200 4.200 6" stroke="#f7dea0" stroke-width="1.500" fill="none" stroke-linecap="round" stroke-linejoin="round"/><path d="M10 7L12.800 9.500 14.500 8.800" stroke="#f7dea0" stroke-width="1.500" fill="none" stroke-linecap="round" stroke-linejoin="round"/><path d="M7.400 5.600L10.300 6.200 11.800 11.600 8.800 12.400z" fill="#8fc5e8" stroke="#8fc5e8" stroke-width="1" stroke-linejoin="round"/><path d="M8.600 11.600L12 10.900 12.800 13.600 10.200 14.300 8 14z" fill="#4a4560"/><circle cx="7.200" cy="3" r="2.500" fill="#f7dea0"/><path d="M5.200 1.800A2.600 2.600 0 0 1 9.900 2.800L9.300 4.300 8.400 2.500z" fill="#e9c46a"/><ellipse cx="2.600" cy="18.700" rx="1.700" ry=".9" fill="#3a3340" transform="rotate(-15 2.600 18.700)"/><ellipse cx="17.300" cy="16.300" rx="1" ry="1.600" fill="#3a3340"/></svg></span><br><span class="e2"><svg class="emo" width="19" height="20" viewBox="0 0 19 20" role="img" aria-label="runner"><path d="M9.600 12.600L6.200 14.800 3.200 18.200" stroke="#f7dea0" stroke-width="1.900" fill="none" stroke-linecap="round" stroke-linejoin="round"/><path d="M10.800 12.800L14.200 14.600 16.800 16.400" stroke="#f7dea0" stroke-width="1.900" fill="none" stroke-linecap="round" stroke-linejoin="round"/><path d="M8 6.500L4.600 8.200 4.200 6" stroke="#f7dea0" stroke-width="1.500" fill="none" stroke-linecap="round" stroke-linejoin="round"/><path d="M10 7L12.800 9.500 14.500 8.800" stroke="#f7dea0" stroke-width="1.500" fill="none" stroke-linecap="round" stroke-linejoin="round"/><path d="M7.400 5.600L10.300 6.200 11.800 11.600 8.800 12.400z" fill="#dcdcd4" stroke="#dcdcd4" stroke-width="1" stroke-linejoin="round"/><path d="M8.600 11.600L12 10.900 12.800 13.600 10.200 14.300 8 14z" fill="#9a9274"/><circle cx="7.200" cy="3" r="2.500" fill="#f7dea0"/><path d="M5.200 1.800A2.600 2.600 0 0 1 9.900 2.800L9.300 4.300 8.400 2.500z" fill="#e9c46a"/><ellipse cx="2.600" cy="18.700" rx="1.700" ry=".9" fill="#3a3340" transform="rotate(-15 2.600 18.700)"/><ellipse cx="17.300" cy="16.300" rx="1" ry="1.600" fill="#3a3340"/></svg><svg class="emo" width="19" height="20" viewBox="0 0 19 20" role="img" aria-label="runner"><path d="M9.600 12.600L6.200 14.800 3.200 18.200" stroke="#f7dea0" stroke-width="1.900" fill="none" stroke-linecap="round" stroke-linejoin="round"/><path d="M10.800 12.800L14.200 14.600 16.800 16.400" stroke="#f7dea0" stroke-width="1.900" fill="none" stroke-linecap="round" stroke-linejoin="round"/><path d="M8 6.500L4.600 8.200 4.200 6" stroke="#f7dea0" stroke-width="1.500" fill="none" stroke-linecap="round" stroke-linejoin="round"/><path d="M10 7L12.800 9.500 14.500 8.800" stroke="#f7dea0" stroke-width="1.500" fill="none" stroke-linecap="round" stroke-linejoin="round"/><path d="M7.400 5.600L10.300 6.200 11.800 11.600 8.800 12.400z" fill="#d8473c" stroke="#d8473c" stroke-width="1" stroke-linejoin="round"/><path d="M8.600 11.600L12 10.900 12.800 13.600 10.200 14.300 8 14z" fill="#3b4fb0"/><circle cx="7.200" cy="3" r="2.500" fill="#f7dea0"/><path d="M5.200 1.800A2.600 2.600 0 0 1 9.900 2.800L9.300 4.300 8.400 2.500z" fill="#e9c46a"/><ellipse cx="2.600" cy="18.700" rx="1.700" ry=".9" fill="#3a3340" transform="rotate(-15 2.600 18.700)"/><ellipse cx="17.300" cy="16.300" rx="1" ry="1.600" fill="#3a3340"/></svg></span></div></div></div></div></div>
<div class="dc " style="left:620.5px;width:206.5px"><div class="dh"><div class="dd">Do. 15 Aug.</div><div class="dl"><svg class="ic mo" width="14.500" height="16" viewBox="0 0 15 16.400"><path d="M.5 .6A9.060 9.060 0 1 1 .5 15.800A7.690 7.690 0 0 0 .5 .6Z" fill="#2b2b2b"/></svg><span class="sl">7h17m</span> <span class="sl">81</span> <span style="color:#212121">Q2</span> <span class="kg">74kg</span></div><div class="dl"><span class="hr"><svg class="ic" width="21" height="21" viewBox="0 0 24 24" style="" fill="#a03358"><path d="M12 21.35l-1.45-1.32C5.4 15.36 2 12.28 2 8.5 2 5.42 4.42 3 7.5 3c1.74 0 3.41.81 4.5 2.09C13.09 3.81 14.76 3 16.5 3 19.58 3 22 5.42 22 8.5c0 3.78-3.4 6.86-8.55 11.54L12 21.35z"/></svg>50<span class="hv">40 ms</span></span><span class="rd"><svg class="ic" width="19" height="19" viewBox="0 0 24 24" style="" fill="#5aa9e0"><path d="M15.11 12.45L14 10.24l-3.11 6.21c-.17.34-.51.55-.89.55s-.72-.21-.89-.55L7.38 13H2v5c0 1.1.9 2 2 2h16c1.1 0 2-.9 2-2v-5h-6c-.38 0-.72-.21-.89-.55zM20 4H4c-1.1 0-2 .9-2 2v5h6c.38 0 .72.21.89.55L10 13.76l3.11-6.210c.34-.68 1.45-.68 1.79 0L16.620 11H22V6c0-1.100-.9-2-2-2z"/></svg>57</span></div><div class="dl"><span class="st" style="margin-left:0"><svg class="ic" width="20" height="20" viewBox="0 0 24 24" style="" fill="#4b9040"><path d="M10.74,11.72C11.21,12.95 11.16,14.23 9.75,14.74C6.85,15.81 6.2,13 6.16,12.86L10.74,11.72M5.71,10.91L10.03,9.84C9.84,8.79 10.13,7.74 10.13,6.5C10.13,4.82 8.8,1.53 6.68,2.06C4.26,2.66 3.91,5.35 4,6.65C4.12,7.95 5.64,10.73 5.71,10.91M17.85,19.85C17.82,20 17.16,22.8 14.26,21.74C12.86,21.22 12.8,19.94 13.27,18.71L17.85,19.85M20,13.65C20.1,12.35 19.76,9.65 17.33,9.05C15.22,8.5 13.89,11.81 13.89,13.5C13.89,14.73 14.17,15.78 14,16.83L18.3,17.9C18.38,17.72 19.89,14.94 20,13.65Z"/></svg>19348</span></div></div><div class="cds"><div class="cd swim"><div class="ch1"><svg class="ic" width="24" height="24" viewBox="0 0 24 24" style="" fill="#fff"><path d="M2,18C4.22,17 6.44,16 8.67,16C10.89,16 13.11,18 15.33,18C17.56,18 19.78,16 22,16V19C19.78,19 17.56,21 15.33,21C13.11,21 10.89,19 8.67,19C6.44,19 4.22,20 2,21V18M8.67,13C7.89,13 7.12,13.12 6.35,13.32L11.27,9.88L10.23,8.64C10.09,8.47 10,8.24 10,8C10,7.66 10.17,7.35 10.44,7.17L16.16,3.17L17.31,4.8L12.47,8.19L17.7,14.42C16.91,14.75 16.12,15 15.33,15C13.11,15 10.89,13 8.67,13M18,7A2,2 0 0,1 20,9A2,2 0 0,1 18,11A2,2 0 0,1 16,9A2,2 0 0,1 18,7Z"/></svg><div class="tx"><span class="du">1h0m</span><span class="di">2.3km</span></div></div><div class="cb"><div class="ln"><span class="pc">2:37/100m</span></div><div class="ln"><span class="ld">Belastung 30</span></div><div class="nm" style="letter-spacing:-0.18px">Schwimmen am<br>Morgen</div></div></div><div class="cd run"><div class="ch1"><svg class="ic" width="24" height="24" viewBox="0 0 24 24" style="" fill="#fff"><path d="M13.49 5.48c1.1 0 2-.9 2-2s-.9-2-2-2-2 .9-2 2 .9 2 2 2zm-3.600 13.900l1-4.400 2.100 2v6h2v-7.500l-2.100-2 .6-3c1.300 1.500 3.300 2.500 5.500 2.500v-2c-1.900 0-3.500-1-4.300-2.400l-1-1.600c-.4-.6-1-1-1.700-1-.3 0-.5.100-.8.100l-5.200 2.200v4.700h2v-3.400l1.800-.7-1.600 8.100-4.900-1-.4 2 7 1.400z"/></svg><div class="tx"><span class="du">53m</span><span class="di">10km</span></div></div><div class="cb"><div class="ln bw"><span class="bp">141bpm</span> <span class="pc">258w</span></div><div class="ln"><span class="pc">4:58/km</span></div><div class="ln"><span class="ld">Belastung 62</span></div><div class="ln"><span class="pc">GAP 4:51/km</span></div><svg class="ch " height="46" viewBox="0 0 186 46" preserveAspectRatio="none"><line x1="0" x2="186" y1="2.8" y2="2.8" stroke="#d4ccd2" stroke-width="1" stroke-dasharray="3 3"/><rect x="0.5" y="11.5" width="16" height="34.5" fill="#62b9a5" stroke="#3f9c88" stroke-width="1"/><rect x="17.5" y="9.5" width="16" height="36.5" fill="#6dbb60" stroke="#3f9a3a" stroke-width="1"/><rect x="34.5" y="6.5" width="16" height="39.5" fill="#6dbb60" stroke="#3f9a3a" stroke-width="1"/><rect x="51.5" y="9.5" width="17" height="36.5" fill="#6dbb60" stroke="#3f9a3a" stroke-width="1"/><rect x="69.5" y="6.5" width="16" height="39.5" fill="#6dbb60" stroke="#3f9a3a" stroke-width="1"/><rect x="86.5" y="8.5" width="16" height="37.5" fill="#6dbb60" stroke="#3f9a3a" stroke-width="1"/><rect x="103.5" y="8.5" width="16" height="37.5" fill="#6dbb60" stroke="#3f9a3a" stroke-width="1"/><rect x="120.5" y="8.5" width="16" height="37.5" fill="#6dbb60" stroke="#3f9a3a" stroke-width="1"/><rect x="137.5" y="8.5" width="16" height="37.5" fill="#6dbb60" stroke="#3f9a3a" stroke-width="1"/><rect x="154.5" y="6.5" width="16" height="39.5" fill="#6dbb60" stroke="#3f9a3a" stroke-width="1"/><rect x="171.5" y="8.5" width="14" height="37.5" fill="#6dbb60" stroke="#3f9a3a" stroke-width="1"/></svg><div class="nm" style="letter-spacing:0px">Lauf am Nachmittag</div></div></div><div class="cd bike"><div class="ch1"><svg class="ic" width="24" height="24" viewBox="0 0 24 24" style="" fill="#fff"><path d="M15.5 5.5c1.1 0 2-.9 2-2s-.9-2-2-2-2 .9-2 2 .9 2 2 2zM5 12c-2.8 0-5 2.2-5 5s2.2 5 5 5 5-2.2 5-5-2.2-5-5-5zm0 8.5c-1.9 0-3.5-1.6-3.5-3.5s1.6-3.5 3.5-3.5 3.5 1.6 3.5 3.5-1.6 3.5-3.5 3.5zm5.8-10l2.4-2.4.8.8c1.3 1.3 3 2.1 5.1 2.1V9c-1.5 0-2.7-.6-3.6-1.5l-1.9-1.9c-.5-.4-1-.6-1.6-.6s-1.1.2-1.4.6L7.800 8.400c-.4.4-.6.9-.6 1.4 0 .6.2 1.100.6 1.400L11 14v5h2v-6.200l-2.200-2.300zM19 12c-2.800 0-5 2.200-5 5s2.200 5 5 5 5-2.200 5-5-2.200-5-5-5zm0 8.500c-1.900 0-3.500-1.600-3.500-3.500s1.600-3.500 3.500-3.500 3.500 1.600 3.500 3.500-1.600 3.500-3.500 3.500z"/></svg><div class="tx"><span class="du">1h1m</span><span class="di">29km</span></div></div><div class="cb"><div class="ln"><span class="bp">128bpm</span></div><div class="ln"><span class="ld">Belastung 43</span></div><svg class="ch bk" height="46" viewBox="0 0 186 46" preserveAspectRatio="none"><line x1="0" x2="186" y1="1.500" y2="1.500" stroke="#d4ccd2" stroke-dasharray="3 3"/><rect x="0" y="10.300" width="186" height="34.5" fill="#6dbb60"/></svg><div class="nm" style="letter-spacing:-0.1px">Abendradfahrt</div></div></div></div></div>
<div class="dc wh" style="left:827px;width:206px"><div class="dh"><div class="dl"><svg class="ic mo" width="14.500" height="16" viewBox="0 0 15 16.400"><path d="M.5 .6A9.060 9.060 0 1 1 .5 15.800A7.690 7.690 0 0 0 .5 .6Z" fill="#2b2b2b"/></svg><span class="sl">6h44m</span> <span class="sl">77</span> <span style="color:#ee9a52">Q3</span></div><div class="dl"><span class="hr"><svg class="ic" width="21" height="21" viewBox="0 0 24 24" style="" fill="#a03358"><path d="M12 21.35l-1.45-1.32C5.4 15.36 2 12.28 2 8.5 2 5.42 4.42 3 7.5 3c1.74 0 3.41.81 4.5 2.09C13.09 3.81 14.76 3 16.5 3 19.58 3 22 5.42 22 8.5c0 3.78-3.4 6.86-8.55 11.54L12 21.35z"/></svg>51<span class="hv">36 ms</span></span><span class="st"><svg class="ic" width="20" height="20" viewBox="0 0 24 24" style="" fill="#4b9040"><path d="M10.74,11.72C11.21,12.95 11.16,14.23 9.75,14.74C6.85,15.81 6.2,13 6.16,12.86L10.74,11.72M5.71,10.91L10.03,9.84C9.84,8.79 10.13,7.74 10.13,6.5C10.13,4.82 8.8,1.53 6.68,2.06C4.26,2.66 3.91,5.35 4,6.65C4.12,7.95 5.64,10.73 5.71,10.91M17.85,19.85C17.82,20 17.16,22.8 14.26,21.74C12.86,21.22 12.8,19.94 13.27,18.71L17.85,19.85M20,13.65C20.1,12.35 19.76,9.65 17.33,9.05C15.22,8.5 13.89,11.81 13.89,13.5C13.89,14.73 14.17,15.78 14,16.83L18.3,17.9C18.38,17.72 19.89,14.94 20,13.65Z"/></svg>9332</span></div></div><div class="big"><div>Fr.</div><div class="bn">16</div><div>Aug.</div></div></div>
<div class="dc " style="left:1033px;width:206px"><div class="dh"><div class="dd">Sa. 17 Aug.</div><div class="dl"><span class="kg" style="margin-left:0;margin-right:12px">74kg</span><span class="hr"><svg class="ic" width="21" height="21" viewBox="0 0 24 24" style="" fill="#a03358"><path d="M12 21.35l-1.45-1.32C5.4 15.36 2 12.28 2 8.5 2 5.42 4.42 3 7.5 3c1.74 0 3.41.81 4.5 2.09C13.09 3.81 14.76 3 16.5 3 19.58 3 22 5.42 22 8.5c0 3.78-3.4 6.86-8.55 11.54L12 21.35z"/></svg>54</span><span class="st"><svg class="ic" width="20" height="20" viewBox="0 0 24 24" style="" fill="#4b9040"><path d="M10.74,11.72C11.21,12.95 11.16,14.23 9.75,14.74C6.85,15.81 6.2,13 6.16,12.86L10.74,11.72M5.71,10.91L10.03,9.84C9.84,8.79 10.13,7.74 10.13,6.5C10.13,4.82 8.8,1.53 6.68,2.06C4.26,2.66 3.91,5.35 4,6.65C4.12,7.95 5.64,10.73 5.71,10.91M17.85,19.85C17.82,20 17.16,22.8 14.26,21.74C12.86,21.22 12.8,19.94 13.27,18.71L17.85,19.85M20,13.65C20.1,12.35 19.76,9.65 17.33,9.05C15.22,8.5 13.89,11.81 13.89,13.5C13.89,14.73 14.17,15.78 14,16.83L18.3,17.9C18.38,17.72 19.89,14.94 20,13.65Z"/></svg>8692</span></div></div><div class="cds"><div class="cd bike"><div class="ch1"><svg class="ic" width="24" height="24" viewBox="0 0 24 24" style="" fill="#fff"><path d="M15.5 5.5c1.1 0 2-.9 2-2s-.9-2-2-2-2 .9-2 2 .9 2 2 2zM5 12c-2.8 0-5 2.2-5 5s2.2 5 5 5 5-2.2 5-5-2.2-5-5-5zm0 8.5c-1.9 0-3.5-1.6-3.5-3.5s1.6-3.5 3.5-3.5 3.5 1.6 3.5 3.5-1.6 3.5-3.5 3.5zm5.8-10l2.4-2.4.8.8c1.3 1.3 3 2.1 5.1 2.1V9c-1.5 0-2.7-.6-3.6-1.5l-1.9-1.9c-.5-.4-1-.6-1.6-.6s-1.1.2-1.4.6L7.800 8.400c-.4.4-.6.9-.6 1.4 0 .6.2 1.100.6 1.400L11 14v5h2v-6.200l-2.200-2.300zM19 12c-2.800 0-5 2.200-5 5s2.200 5 5 5 5-2.200 5-5-2.200-5-5-5zm0 8.500c-1.900 0-3.500-1.600-3.500-3.500s1.600-3.500 3.500-3.500 3.500 1.600 3.500 3.500-1.600 3.500-3.500 3.500z"/></svg><div class="tx"><span class="du">3h46m</span><span class="di">95km</span></div></div><div class="cb"><div class="ln"><span class="bp">133bpm</span></div><div class="ln"><span class="ld">Belastung 174</span></div><svg class="ch bk" height="46" viewBox="0 0 186 46" preserveAspectRatio="none"><line x1="0" x2="186" y1="1.500" y2="1.500" stroke="#d4ccd2" stroke-dasharray="3 3"/><rect x="0" y="10.300" width="186" height="34.5" fill="#6dbb60"/></svg><div class="nm" style="letter-spacing:0.18px">Mittagsradfahrt</div></div></div></div></div>
<div class="dc today" style="left:1239px;width:206px"><div class="dh"><div class="dd td">So. 18 Aug.</div><div class="dl"><svg class="ic mo" width="14.500" height="16" viewBox="0 0 15 16.400"><path d="M.5 .6A9.060 9.060 0 1 1 .5 15.800A7.690 7.690 0 0 0 .5 .6Z" fill="#2b2b2b"/></svg><span class="sl">8h28m</span> <span class="sl">76</span> <span style="color:#ee9a52">Q3</span> <span class="kg">74kg</span></div><div class="dl"><span class="hr"><svg class="ic" width="21" height="21" viewBox="0 0 24 24" style="" fill="#a03358"><path d="M12 21.35l-1.45-1.32C5.4 15.36 2 12.28 2 8.5 2 5.42 4.42 3 7.5 3c1.74 0 3.41.81 4.5 2.09C13.09 3.81 14.76 3 16.5 3 19.58 3 22 5.42 22 8.5c0 3.78-3.4 6.86-8.55 11.54L12 21.35z"/></svg>52<span class="hv">34 ms</span></span><span class="rd"><svg class="ic" width="19" height="19" viewBox="0 0 24 24" style="" fill="#5aa9e0"><path d="M15.11 12.45L14 10.24l-3.11 6.21c-.17.34-.51.55-.89.55s-.72-.21-.89-.55L7.38 13H2v5c0 1.1.9 2 2 2h16c1.1 0 2-.9 2-2v-5h-6c-.38 0-.72-.21-.89-.55zM20 4H4c-1.1 0-2 .9-2 2v5h6c.38 0 .72.21.89.55L10 13.76l3.11-6.210c.34-.68 1.45-.68 1.79 0L16.620 11H22V6c0-1.100-.9-2-2-2z"/></svg>58</span></div><div class="dl"><span class="st" style="margin-left:0"><svg class="ic" width="20" height="20" viewBox="0 0 24 24" style="" fill="#4b9040"><path d="M10.74,11.72C11.21,12.95 11.16,14.23 9.75,14.74C6.85,15.81 6.2,13 6.16,12.86L10.74,11.72M5.71,10.91L10.03,9.84C9.84,8.79 10.13,7.74 10.13,6.5C10.13,4.82 8.8,1.53 6.68,2.06C4.26,2.66 3.91,5.35 4,6.65C4.12,7.95 5.64,10.73 5.71,10.91M17.85,19.85C17.82,20 17.16,22.8 14.26,21.74C12.86,21.22 12.8,19.94 13.27,18.71L17.85,19.85M20,13.65C20.1,12.35 19.76,9.65 17.33,9.05C15.22,8.5 13.89,11.81 13.89,13.5C13.89,14.73 14.17,15.78 14,16.83L18.3,17.9C18.38,17.72 19.89,14.94 20,13.65Z"/></svg>13057</span></div><div class="wx"><svg style="left:33px;top:4px" width="38" height="36" viewBox="0 0 38 36" fill="none" stroke="#3a4fc8" stroke-width="1.500" stroke-linecap="round"><circle cx="22" cy="13" r="5.500"/><path d="M22 3v2.500M13.500 6.500l1.800 1.800M30.500 6.500l-1.800 1.800M33 13h-2.500M30.500 20l-1.800-1.600" stroke-width="1.300"/><path d="M9 25.500a5 5 0 0 1 .8-9.900 6.500 6.500 0 0 1 12.400 1.400 4.300 4.300 0 0 1-.7 8.500z" fill="#fff" stroke-width="1.700"/><path d="M9.500 29l-.8 3.500M13.500 29l-.8 3.500M17.500 29l-.8 3.500M21.500 29l-.8 2.500" stroke-width="1.300"/></svg><span class="tp" style="left:75px;top:5px">16°<br>19°</span><svg style="left:114px;top:5px" width="24" height="30" viewBox="0 0 24 30"><path d="M18.500 2L7 21" stroke="#111" stroke-width="3.200" fill="none"/><path d="M2.500 27l1.500-11 8.500 5.500z" fill="#111"/></svg><span class="tp" style="left:144px;top:5px">10<br>20</span></div></div><div class="cds"><div class="cd run"><div class="ch1"><svg class="ic" width="24" height="24" viewBox="0 0 24 24" style="" fill="#fff"><path d="M13.49 5.48c1.1 0 2-.9 2-2s-.9-2-2-2-2 .9-2 2 .9 2 2 2zm-3.600 13.900l1-4.400 2.100 2v6h2v-7.500l-2.100-2 .6-3c1.300 1.500 3.300 2.500 5.500 2.500v-2c-1.900 0-3.500-1-4.300-2.400l-1-1.600c-.4-.6-1-1-1.700-1-.3 0-.5.100-.8.100l-5.200 2.200v4.700h2v-3.400l1.800-.7-1.600 8.100-4.900-1-.4 2 7 1.400z"/></svg><div class="tx"><span class="du">56m</span><span class="di">10km</span></div></div><div class="cb"><div class="ln bw"><span class="bp">131bpm</span> <span class="pc">269w</span></div><div class="ln"><span class="pc">5:25/km</span></div><div class="ln"><span class="ld">Belastung 71</span></div><div class="ln"><span class="pc">GAP 5:25/km</span></div><svg class="ch " height="46" viewBox="0 0 186 46" preserveAspectRatio="none"><line x1="0" x2="186" y1="3.8" y2="3.8" stroke="#d4ccd2" stroke-width="1" stroke-dasharray="3 3"/><rect x="0.5" y="24.5" width="27" height="21.5" fill="#62b9a5" stroke="#3f9c88" stroke-width="1"/><rect x="28.5" y="29.5" width="117" height="16.5" fill="#62b9a5" stroke="#3f9c88" stroke-width="1"/><rect x="28.5" y="1.5" width="12" height="44.5" fill="#f5a55f" stroke="#e8893a" stroke-width="1"/><rect x="48.1" y="1.5" width="12" height="44.5" fill="#f5a55f" stroke="#e8893a" stroke-width="1"/><rect x="67.7" y="1.5" width="12" height="44.5" fill="#f5a55f" stroke="#e8893a" stroke-width="1"/><rect x="87.30000000000001" y="1.5" width="12" height="44.5" fill="#f5a55f" stroke="#e8893a" stroke-width="1"/><rect x="106.9" y="1.5" width="12" height="44.5" fill="#f5a55f" stroke="#e8893a" stroke-width="1"/><rect x="126.5" y="1.5" width="12" height="44.5" fill="#f5a55f" stroke="#e8893a" stroke-width="1"/><rect x="145.5" y="9.5" width="17" height="36.5" fill="#6dbb60" stroke="#3f9a3a" stroke-width="1"/><rect x="163.5" y="7.5" width="15" height="38.5" fill="#6dbb60" stroke="#3f9a3a" stroke-width="1"/><rect x="179.5" y="9.5" width="4" height="36.5" fill="#6dbb60" stroke="#3f9a3a" stroke-width="1"/></svg><div class="nm" style="letter-spacing:0.2px">Mittagslauf</div></div></div></div></div>
</div>
<div class="ws" style="top:842px;height:117px">
<div class="wd" style="left:12px;top:9.5px">05 Aug.<br>11 Aug.</div>
<div class="wi" style="left:119px;top:9.5px"><span class="l">Woche</span><br><span class="v">32<i class="car2"></i></span></div>
<div class="wi" style="left:214px;top:9.5px"><span class="l">Gesamtzeit</span><br><span class="v">9h23m</span></div>
<div class="wi" style="left:317px;top:9.5px"><span class="l">Belastung</span><br><span class="v">477</span></div>
<div class="wi" style="left:403px;top:9.5px"><span class="l">Fitness</span><br><span class="v n" style="color:#5fa8dc">66</span></div>
<div class="wi" style="left:478px;top:9.5px"><span class="l">Ermüdung</span><br><span class="v n" style="color:#6a4fc4">71</span></div>
<div class="wi" style="left:545px;top:9.5px"><span class="l">Form</span><br><span class="v n" style="color:#757575">-5</span></div>
<div class="wi" style="left:614px;top:9.5px"><span class="l">Steigerung</span><br><span class="v">0.4</span></div>
<div class="wi" style="left:695px;top:9.5px"><span class="l">kcal</span><br><span class="v">6611</span></div>
<div class="wi" style="left:756px;top:9.5px"><span class="l">Hoch</span><br><span class="v">747m</span></div>
<div class="wic" style="left:797px;top:18.5px"><svg class="ic" width="24" height="24" viewBox="0 0 24 24" style="" fill="#34579a"><path d="M15.5 5.5c1.1 0 2-.9 2-2s-.9-2-2-2-2 .9-2 2 .9 2 2 2zM5 12c-2.8 0-5 2.2-5 5s2.2 5 5 5 5-2.2 5-5-2.2-5-5-5zm0 8.5c-1.9 0-3.5-1.6-3.5-3.5s1.6-3.5 3.5-3.5 3.5 1.6 3.5 3.5-1.6 3.5-3.5 3.5zm5.8-10l2.4-2.4.8.8c1.3 1.3 3 2.1 5.1 2.1V9c-1.5 0-2.7-.6-3.6-1.5l-1.9-1.9c-.5-.4-1-.6-1.6-.6s-1.1.2-1.4.6L7.800 8.400c-.4.4-.6.9-.6 1.4 0 .6.2 1.100.6 1.400L11 14v5h2v-6.200l-2.200-2.300zM19 12c-2.800 0-5 2.200-5 5s2.200 5 5 5 5-2.200 5-5-2.200-5-5-5zm0 8.500c-1.900 0-3.500-1.600-3.500-3.500s1.600-3.500 3.500-3.500 3.500 1.600 3.500 3.500-1.600 3.500-3.500 3.500z"/></svg></div>
<div class="wi" style="left:885px;top:9.5px"><span class="sb">4h14m</span> <span class="v">124km</span><br><span class="v">Belastung 208</span></div>
<div class="wic" style="left:961px;top:17.5px"><svg class="ic" width="24" height="24" viewBox="0 0 24 24" style="" fill="#34579a"><path d="M13.49 5.48c1.1 0 2-.9 2-2s-.9-2-2-2-2 .9-2 2 .9 2 2 2zm-3.600 13.900l1-4.400 2.100 2v6h2v-7.500l-2.100-2 .6-3c1.300 1.500 3.300 2.500 5.500 2.500v-2c-1.900 0-3.500-1-4.300-2.400l-1-1.600c-.4-.6-1-1-1.700-1-.3 0-.5.100-.8.100l-5.200 2.200v4.700h2v-3.400l1.800-.7-1.600 8.100-4.900-1-.4 2 7 1.400z"/></svg></div>
<div class="wi" style="left:1048px;top:9.5px"><span class="sb">3h8m</span> <span class="v">33km</span><br><span class="v">Belastung 203</span></div>
<div class="wic" style="left:1123px;top:17.5px"><svg class="ic" width="24" height="24" viewBox="0 0 24 24" style="" fill="#34579a"><path d="M2,18C4.22,17 6.44,16 8.67,16C10.89,16 13.11,18 15.33,18C17.56,18 19.78,16 22,16V19C19.78,19 17.56,21 15.33,21C13.11,21 10.89,19 8.67,19C6.44,19 4.22,20 2,21V18M8.67,13C7.89,13 7.12,13.12 6.35,13.32L11.27,9.88L10.23,8.64C10.09,8.47 10,8.24 10,8C10,7.66 10.17,7.35 10.44,7.17L16.16,3.17L17.31,4.8L12.47,8.19L17.7,14.42C16.91,14.75 16.12,15 15.33,15C13.11,15 10.89,13 8.67,13M18,7A2,2 0 0,1 20,9A2,2 0 0,1 18,11A2,2 0 0,1 16,9A2,2 0 0,1 18,7Z"/></svg></div>
<div class="wi" style="left:1205px;top:9.5px"><span class="sb">2h0m</span> <span class="v">5.4km</span><br><span class="v">Belastung 66</span></div>
<div class="wi" style="left:1321px;top:9.5px"><span class="l">Grundlage</span><br><span class="v">1.21</span></div>
<div class="wi" style="left:41px;top:64px"><span class="l">Z1</span><br><span class="z">4:04:53</span></div>
<div class="wi" style="left:119px;top:64px"><span class="l">Z2</span><br><span class="z">3:08:39</span></div>
<div class="wi" style="left:190px;top:64px"><span class="l">Z3</span><br><span class="z">26:00</span></div>
<div class="wi" style="left:253px;top:64px"><span class="l">Z4</span><br><span class="z">32:24</span></div>
<div class="wi" style="left:311px;top:64px"><span class="l">Z5</span><br><span class="z">9:53</span></div>
<div class="wi" style="left:364px;top:64px"><span class="l">Z6</span><br><span class="z">1:05</span></div>
<div class="wi" style="left:416px;top:64px"><span class="l">Z7</span><br><span class="z">0:04</span></div>
<div class="wi" style="left:474px;top:64px"><span class="l">SS</span><br><span class="z">15:13</span></div>
<div class="wi" style="left:553px;top:64px"><span class="l">S1</span><br><span class="z">7:13:32</span></div>
<div class="wi" style="left:624px;top:64px"><span class="l">S2</span><br><span class="z">58:24</span></div>
<div class="wi" style="left:678px;top:64px"><span class="l">S3</span><br><span class="z">11:02</span></div>
</div>
<div class="dr" style="top:959.5px;height:200px">
<div class="dc " style="left:0px;width:207px"><div class="dh"><div class="dd">Mo. 05 Aug.</div><div class="dl"><svg class="ic mo" width="14.500" height="16" viewBox="0 0 15 16.400"><path d="M.5 .6A9.060 9.060 0 1 1 .5 15.800A7.690 7.690 0 0 0 .5 .6Z" fill="#2b2b2b"/></svg><span class="sl">7h54m</span> <span class="sl">92</span> <span style="color:#559a46">Q1</span> <span class="kg">74kg</span></div><div class="dl"><span class="hr"><svg class="ic" width="21" height="21" viewBox="0 0 24 24" style="" fill="#a03358"><path d="M12 21.35l-1.45-1.32C5.4 15.36 2 12.28 2 8.5 2 5.42 4.42 3 7.5 3c1.74 0 3.41.81 4.5 2.09C13.09 3.81 14.76 3 16.5 3 19.58 3 22 5.42 22 8.5c0 3.78-3.4 6.86-8.55 11.54L12 21.35z"/></svg>48<span class="hv">43 ms</span></span><span class="st"><svg class="ic" width="20" height="20" viewBox="0 0 24 24" style="" fill="#4b9040"><path d="M10.74,11.72C11.21,12.95 11.16,14.23 9.75,14.74C6.85,15.81 6.2,13 6.16,12.86L10.74,11.72M5.71,10.91L10.03,9.84C9.84,8.79 10.13,7.74 10.13,6.5C10.13,4.82 8.8,1.53 6.68,2.06C4.26,2.66 3.91,5.35 4,6.65C4.12,7.95 5.64,10.73 5.71,10.91M17.85,19.85C17.82,20 17.16,22.8 14.26,21.74C12.86,21.22 12.8,19.94 13.27,18.71L17.85,19.85M20,13.65C20.1,12.35 19.76,9.65 17.33,9.05C15.22,8.5 13.89,11.81 13.89,13.5C13.89,14.73 14.17,15.78 14,16.83L18.3,17.9C18.38,17.72 19.89,14.94 20,13.65Z"/></svg>5195</span></div></div><div class="cds"><div class="cd swim"><div class="ch1"><svg class="ic" width="24" height="24" viewBox="0 0 24 24" style="" fill="#fff"><path d="M2,18C4.22,17 6.44,16 8.67,16C10.89,16 13.11,18 15.33,18C17.56,18 19.78,16 22,16V19C19.78,19 17.56,21 15.33,21C13.11,21 10.89,19 8.67,19C6.44,19 4.22,20 2,21V18M8.67,13C7.89,13 7.12,13.12 6.35,13.32L11.27,9.88L10.23,8.64C10.09,8.47 10,8.24 10,8C10,7.66 10.17,7.35 10.44,7.17L16.16,3.17L17.31,4.8L12.47,8.19L17.7,14.42C16.91,14.75 16.12,15 15.33,15C13.11,15 10.89,13 8.67,13M18,7A2,2 0 0,1 20,9A2,2 0 0,1 18,11A2,2 0 0,1 16,9A2,2 0 0,1 18,7Z"/></svg><div class="tx"><span class="du">29m</span><span class="di">1.6km</span></div></div><div class="cb"><div class="ln"><span class="bp">125bpm</span> <span class="pc">1:52/100m</span></div><div class="ln"><span class="ld">Belastung 20</span></div><svg class="ch " height="46" viewBox="0 0 186 46" preserveAspectRatio="none"><line x1="0" x2="186" y1="8.7" y2="8.7" stroke="#d4ccd2" stroke-width="1" stroke-dasharray="3 3"/><rect x="0.5" y="17.0" width="4.4" height="29.0" fill="#6dbb60" stroke="#3f9a3a" stroke-width="1"/><rect x="5.9" y="15.0" width="13.6" height="31.0" fill="#6dbb60" stroke="#3f9a3a" stroke-width="1"/><rect x="21.5" y="17.0" width="4.4" height="29.0" fill="#6dbb60" stroke="#3f9a3a" stroke-width="1"/><rect x="26.9" y="13.9" width="4" height="32.1" fill="#6dbb60" stroke="#3f9a3a" stroke-width="1"/><rect x="31.9" y="13.9" width="4" height="32.1" fill="#6dbb60" stroke="#3f9a3a" stroke-width="1"/><rect x="36.9" y="13.9" width="3.5999999999999996" height="32.1" fill="#6dbb60" stroke="#3f9a3a" stroke-width="1"/><rect x="41.5" y="17.0" width="10" height="29.0" fill="#6dbb60" stroke="#3f9a3a" stroke-width="1"/><rect x="52.5" y="18.1" width="4.5" height="27.9" fill="#62b9a5" stroke="#3f9c88" stroke-width="1"/><rect x="58.0" y="18.1" width="4.5" height="27.9" fill="#62b9a5" stroke="#3f9c88" stroke-width="1"/><rect x="63.5" y="9.2" width="8" height="36.8" fill="#f5a55f" stroke="#e8893a" stroke-width="1"/><rect x="72.8" y="22.5" width="11.5" height="23.5" fill="#62b9a5" stroke="#3f9c88" stroke-width="1"/><rect x="85.5" y="4.9" width="3.4000000000000004" height="41.1" fill="#9a74e0" stroke="#7a50c8" stroke-width="1"/><rect x="92.8" y="3.0" width="3.4000000000000004" height="43.0" fill="#7b768c" stroke="#5d5870" stroke-width="1"/><rect x="100.1" y="3.0" width="3.4000000000000004" height="43.0" fill="#7b768c" stroke="#5d5870" stroke-width="1"/><rect x="107.39999999999999" y="3.0" width="3.4000000000000004" height="43.0" fill="#7b768c" stroke="#5d5870" stroke-width="1"/><rect x="114.69999999999999" y="3.0" width="3.4000000000000004" height="43.0" fill="#7b768c" stroke="#5d5870" stroke-width="1"/><rect x="121.99999999999999" y="3.0" width="3.4000000000000004" height="43.0" fill="#7b768c" stroke="#5d5870" stroke-width="1"/><rect x="129.29999999999998" y="3.0" width="3.4000000000000004" height="43.0" fill="#7b768c" stroke="#5d5870" stroke-width="1"/><rect x="136.6" y="3.0" width="3.4000000000000004" height="43.0" fill="#7b768c" stroke="#5d5870" stroke-width="1"/><rect x="143.9" y="4.9" width="3.4000000000000004" height="41.1" fill="#9a74e0" stroke="#7a50c8" stroke-width="1"/><rect x="151.20000000000002" y="3.0" width="3.4000000000000004" height="43.0" fill="#7b768c" stroke="#5d5870" stroke-width="1"/><rect x="155.5" y="22.5" width="12" height="23.5" fill="#62b9a5" stroke="#3f9c88" stroke-width="1"/><rect x="169.0" y="10.5" width="16.5" height="35.5" fill="#f5a55f" stroke="#e8893a" stroke-width="1"/></svg><div class="nm" style="letter-spacing:0.13px">Mittagschwimmen</div></div></div></div></div>
<div class="dc " style="left:207px;width:207px"><div class="dh"><div class="dd">Di. 06 Aug.</div><div class="dl"><svg class="ic mo" width="14.500" height="16" viewBox="0 0 15 16.400"><path d="M.5 .6A9.060 9.060 0 1 1 .5 15.800A7.690 7.690 0 0 0 .5 .6Z" fill="#2b2b2b"/></svg><span class="sl">6h53m</span> <span class="sl">76</span> <span style="color:#ee9a52">Q3</span> <span class="kg">74kg</span></div><div class="dl"><span class="hr"><svg class="ic" width="21" height="21" viewBox="0 0 24 24" style="" fill="#a03358"><path d="M12 21.35l-1.45-1.32C5.4 15.36 2 12.28 2 8.5 2 5.42 4.42 3 7.5 3c1.74 0 3.41.81 4.5 2.09C13.09 3.81 14.76 3 16.5 3 19.58 3 22 5.42 22 8.5c0 3.78-3.4 6.86-8.55 11.54L12 21.35z"/></svg>49<span class="hv">42 ms</span></span><span class="rd"><svg class="ic" width="19" height="19" viewBox="0 0 24 24" style="" fill="#5aa9e0"><path d="M15.11 12.45L14 10.24l-3.11 6.21c-.17.34-.51.55-.89.55s-.72-.21-.89-.55L7.38 13H2v5c0 1.1.9 2 2 2h16c1.1 0 2-.9 2-2v-5h-6c-.38 0-.72-.21-.89-.55zM20 4H4c-1.1 0-2 .9-2 2v5h6c.38 0 .72.21.89.55L10 13.76l3.11-6.210c.34-.68 1.45-.68 1.79 0L16.620 11H22V6c0-1.100-.9-2-2-2z"/></svg>57</span></div><div class="dl"><span class="st" style="margin-left:0"><svg class="ic" width="20" height="20" viewBox="0 0 24 24" style="" fill="#4b9040"><path d="M10.74,11.72C11.21,12.95 11.16,14.23 9.75,14.74C6.85,15.81 6.2,13 6.16,12.86L10.74,11.72M5.71,10.91L10.03,9.84C9.84,8.79 10.13,7.74 10.13,6.5C10.13,4.82 8.8,1.53 6.68,2.06C4.26,2.66 3.91,5.35 4,6.65C4.12,7.95 5.64,10.73 5.71,10.91M17.85,19.85C17.82,20 17.16,22.8 14.26,21.74C12.86,21.22 12.8,19.94 13.27,18.71L17.85,19.85M20,13.65C20.1,12.35 19.76,9.65 17.33,9.05C15.22,8.5 13.89,11.81 13.89,13.5C13.89,14.73 14.17,15.78 14,16.83L18.3,17.9C18.38,17.72 19.89,14.94 20,13.65Z"/></svg>12475</span></div></div><div class="cds"><div class="cd run"><div class="ch1"><svg class="ic" width="24" height="24" viewBox="0 0 24 24" style="" fill="#fff"><path d="M13.49 5.48c1.1 0 2-.9 2-2s-.9-2-2-2-2 .9-2 2 .9 2 2 2zm-3.600 13.900l1-4.400 2.100 2v6h2v-7.500l-2.100-2 .6-3c1.300 1.500 3.300 2.500 5.500 2.500v-2c-1.900 0-3.500-1-4.300-2.400l-1-1.600c-.4-.6-1-1-1.700-1-.3 0-.5.100-.8.100l-5.200 2.200v4.700h2v-3.400l1.800-.7-1.600 8.100-4.900-1-.4 2 7 1.400z"/></svg><div class="tx"><span class="du">57m</span><span class="di">9km</span></div></div><div class="cb"><div class="ln bw"><span class="bp">132bpm</span> <span class="pc">252w</span></div><div class="ln"><span class="pc">5:30/km</span></div></div></div></div></div>
<div class="dc " style="left:414px;width:206.5px"><div class="dh"><div class="dd">Mi. 07 Aug.</div><div class="dl"><svg class="ic mo" width="14.500" height="16" viewBox="0 0 15 16.400"><path d="M.5 .6A9.060 9.060 0 1 1 .5 15.800A7.690 7.690 0 0 0 .5 .6Z" fill="#2b2b2b"/></svg><span class="sl">7h18m</span> <span class="sl">87</span> <span style="color:#212121">Q2</span> <span class="kg">74kg</span></div><div class="dl"><span class="hr"><svg class="ic" width="21" height="21" viewBox="0 0 24 24" style="" fill="#a03358"><path d="M12 21.35l-1.45-1.32C5.4 15.36 2 12.28 2 8.5 2 5.42 4.42 3 7.5 3c1.74 0 3.41.81 4.5 2.09C13.09 3.81 14.76 3 16.5 3 19.58 3 22 5.42 22 8.5c0 3.78-3.4 6.86-8.55 11.54L12 21.35z"/></svg>47<span class="hv">43 ms</span></span><span class="st"><svg class="ic" width="20" height="20" viewBox="0 0 24 24" style="" fill="#4b9040"><path d="M10.74,11.72C11.21,12.95 11.16,14.23 9.75,14.74C6.85,15.81 6.2,13 6.16,12.86L10.74,11.72M5.71,10.91L10.03,9.84C9.84,8.79 10.13,7.74 10.13,6.5C10.13,4.82 8.8,1.53 6.68,2.06C4.26,2.66 3.91,5.35 4,6.65C4.12,7.95 5.64,10.73 5.71,10.91M17.85,19.85C17.82,20 17.16,22.8 14.26,21.74C12.86,21.22 12.8,19.94 13.27,18.71L17.85,19.85M20,13.65C20.1,12.35 19.76,9.65 17.33,9.05C15.22,8.5 13.89,11.81 13.89,13.5C13.89,14.73 14.17,15.78 14,16.83L18.3,17.9C18.38,17.72 19.89,14.94 20,13.65Z"/></svg>12547</span></div></div><div class="cds"><div class="cd swim"><div class="ch1"><svg class="ic" width="24" height="24" viewBox="0 0 24 24" style="" fill="#fff"><path d="M2,18C4.22,17 6.44,16 8.67,16C10.89,16 13.11,18 15.33,18C17.56,18 19.78,16 22,16V19C19.78,19 17.56,21 15.33,21C13.11,21 10.89,19 8.67,19C6.44,19 4.22,20 2,21V18M8.67,13C7.89,13 7.12,13.12 6.35,13.32L11.27,9.88L10.23,8.64C10.09,8.47 10,8.24 10,8C10,7.66 10.17,7.35 10.44,7.17L16.16,3.17L17.31,4.8L12.47,8.19L17.7,14.42C16.91,14.75 16.12,15 15.33,15C13.11,15 10.89,13 8.67,13M18,7A2,2 0 0,1 20,9A2,2 0 0,1 18,11A2,2 0 0,1 16,9A2,2 0 0,1 18,7Z"/></svg><div class="tx"><span class="du">30m</span><span class="di">1.6km</span></div></div><div class="cb"><div class="ln"><span class="bp">124bpm</span> <span class="pc">1:56/100m</span></div><div class="ln"><span class="ld">Belastung 20</span></div><svg class="ch " height="46" viewBox="0 0 186 46" preserveAspectRatio="none"><line x1="0" x2="186" y1="9.5" y2="9.5" stroke="#d4ccd2" stroke-width="1" stroke-dasharray="3 3"/><rect x="0.5" y="15.0" width="8.906521739130437" height="31.0" fill="#6dbb60" stroke="#3f9a3a" stroke-width="1"/><rect x="10.406521739130437" y="18.0" width="10.321739130434782" height="28.0" fill="#62b9a5" stroke="#3f9c88" stroke-width="1"/><rect x="22.43586956521739" y="15.4" width="4.256521739130435" height="30.6" fill="#6dbb60" stroke="#3f9a3a" stroke-width="1"/><rect x="27.692391304347826" y="13.7" width="4.256521739130435" height="32.3" fill="#6dbb60" stroke="#3f9a3a" stroke-width="1"/><rect x="32.948913043478264" y="13.7" width="3.75108695652174" height="32.3" fill="#6dbb60" stroke="#3f9a3a" stroke-width="1"/><rect x="37.699999999999996" y="13.7" width="3.6499999999999995" height="32.3" fill="#6dbb60" stroke="#3f9a3a" stroke-width="1"/><rect x="42.35" y="16.7" width="4.256521739130435" height="29.3" fill="#6dbb60" stroke="#3f9a3a" stroke-width="1"/><rect x="47.606521739130436" y="13.7" width="5.671739130434783" height="32.3" fill="#6dbb60" stroke="#3f9a3a" stroke-width="1"/><rect x="54.27826086956522" y="19.7" width="8.906521739130437" height="26.3" fill="#62b9a5" stroke="#3f9c88" stroke-width="1"/><rect x="64.18478260869566" y="10.5" width="8.299999999999999" height="35.5" fill="#f5a55f" stroke="#e8893a" stroke-width="1"/><rect x="74.09130434782608" y="21.0" width="10.321739130434782" height="25.0" fill="#62b9a5" stroke="#3f9c88" stroke-width="1"/><rect x="87.43478260869566" y="3.3" width="3.447826086956522" height="42.7" fill="#7b768c" stroke="#5d5870" stroke-width="1"/><rect x="94.71304347826087" y="4.9" width="3.447826086956522" height="41.1" fill="#7b768c" stroke="#5d5870" stroke-width="1"/><rect x="101.08152173913044" y="2.9" width="3.447826086956522" height="43.1" fill="#7b768c" stroke="#5d5870" stroke-width="1"/><rect x="108.25869565217391" y="2.9" width="3.447826086956522" height="43.1" fill="#7b768c" stroke="#5d5870" stroke-width="1"/><rect x="113.91956521739131" y="2.3" width="3.447826086956522" height="43.7" fill="#7b768c" stroke="#5d5870" stroke-width="1"/><rect x="121.80434782608697" y="5.3" width="3.447826086956522" height="40.7" fill="#9a74e0" stroke="#7a50c8" stroke-width="1"/><rect x="129.18369565217392" y="2.3" width="3.447826086956522" height="43.7" fill="#7b768c" stroke="#5d5870" stroke-width="1"/><rect x="136.46195652173913" y="3.3" width="3.447826086956522" height="42.7" fill="#7b768c" stroke="#5d5870" stroke-width="1"/><rect x="143.74021739130436" y="6.2" width="3.447826086956522" height="39.8" fill="#9a74e0" stroke="#7a50c8" stroke-width="1"/><rect x="151.1195652173913" y="4.9" width="3.447826086956522" height="41.1" fill="#7b768c" stroke="#5d5870" stroke-width="1"/><rect x="155.76956521739132" y="21.0" width="11.534782608695654" height="25.0" fill="#62b9a5" stroke="#3f9c88" stroke-width="1"/><rect x="169.01195652173914" y="9.2" width="16.48804347826087" height="36.8" fill="#f5a55f" stroke="#e8893a" stroke-width="1"/></svg><div class="nm" style="letter-spacing:0.13px">Mittagschwimmen</div></div></div></div></div>
<div class="dc " style="left:620.5px;width:206.5px"><div class="dh"><div class="dd">Do. 08 Aug.</div><div class="dl"><svg class="ic mo" width="14.500" height="16" viewBox="0 0 15 16.400"><path d="M.5 .6A9.060 9.060 0 1 1 .5 15.800A7.690 7.690 0 0 0 .5 .6Z" fill="#2b2b2b"/></svg><span class="sl">6h44m</span> <span class="sl">75</span> <span style="color:#ee9a52">Q3</span> <span class="kg">74kg</span></div><div class="dl"><span class="hr"><svg class="ic" width="21" height="21" viewBox="0 0 24 24" style="" fill="#a03358"><path d="M12 21.35l-1.45-1.32C5.4 15.36 2 12.28 2 8.5 2 5.42 4.42 3 7.5 3c1.74 0 3.41.81 4.5 2.09C13.09 3.81 14.76 3 16.5 3 19.58 3 22 5.42 22 8.5c0 3.78-3.4 6.86-8.55 11.54L12 21.35z"/></svg>51<span class="hv">32 ms</span></span><span class="rd"><svg class="ic" width="19" height="19" viewBox="0 0 24 24" style="" fill="#5aa9e0"><path d="M15.11 12.45L14 10.24l-3.11 6.21c-.17.34-.51.55-.89.55s-.72-.21-.89-.55L7.38 13H2v5c0 1.1.9 2 2 2h16c1.1 0 2-.9 2-2v-5h-6c-.38 0-.72-.21-.89-.55zM20 4H4c-1.1 0-2 .9-2 2v5h6c.38 0 .72.21.89.55L10 13.76l3.11-6.210c.34-.68 1.45-.68 1.79 0L16.620 11H22V6c0-1.100-.9-2-2-2z"/></svg>57</span></div><div class="dl"><span class="st" style="margin-left:0"><svg class="ic" width="20" height="20" viewBox="0 0 24 24" style="" fill="#4b9040"><path d="M10.74,11.72C11.21,12.95 11.16,14.23 9.75,14.74C6.85,15.81 6.2,13 6.16,12.86L10.74,11.72M5.71,10.91L10.03,9.84C9.84,8.79 10.13,7.74 10.13,6.5C10.13,4.82 8.8,1.53 6.68,2.06C4.26,2.66 3.91,5.35 4,6.65C4.12,7.95 5.64,10.73 5.71,10.91M17.85,19.85C17.82,20 17.16,22.8 14.26,21.74C12.86,21.22 12.8,19.94 13.27,18.71L17.85,19.85M20,13.65C20.1,12.35 19.76,9.65 17.33,9.05C15.22,8.5 13.89,11.81 13.89,13.5C13.89,14.73 14.17,15.78 14,16.83L18.3,17.9C18.38,17.72 19.89,14.94 20,13.65Z"/></svg>17433</span></div></div><div class="cds"><div class="cd swim"><div class="ch1"><svg class="ic" width="24" height="24" viewBox="0 0 24 24" style="" fill="#fff"><path d="M2,18C4.22,17 6.44,16 8.67,16C10.89,16 13.11,18 15.33,18C17.56,18 19.78,16 22,16V19C19.78,19 17.56,21 15.33,21C13.11,21 10.89,19 8.67,19C6.44,19 4.22,20 2,21V18M8.67,13C7.89,13 7.12,13.12 6.35,13.32L11.27,9.88L10.23,8.64C10.09,8.47 10,8.24 10,8C10,7.66 10.17,7.35 10.44,7.17L16.16,3.17L17.31,4.8L12.47,8.19L17.7,14.42C16.91,14.75 16.12,15 15.33,15C13.11,15 10.89,13 8.67,13M18,7A2,2 0 0,1 20,9A2,2 0 0,1 18,11A2,2 0 0,1 16,9A2,2 0 0,1 18,7Z"/></svg><div class="tx"><span class="du">1h0m</span><span class="di">2.2km</span></div></div><div class="cb"><div class="ln"><span class="pc">2:44/100m</span></div><div class="ln"><span class="ld">Belastung 28</span></div></div></div></div></div>
<div class="dc wh" style="left:827px;width:206px"><div class="dh"><div class="dl"><svg class="ic mo" width="14.500" height="16" viewBox="0 0 15 16.400"><path d="M.5 .6A9.060 9.060 0 1 1 .5 15.800A7.690 7.690 0 0 0 .5 .6Z" fill="#2b2b2b"/></svg><span class="sl">7h11m</span> <span class="sl">82</span> <span style="color:#212121">Q2</span></div><div class="dl"><span class="hr"><svg class="ic" width="21" height="21" viewBox="0 0 24 24" style="" fill="#a03358"><path d="M12 21.35l-1.45-1.32C5.4 15.36 2 12.28 2 8.5 2 5.42 4.42 3 7.5 3c1.74 0 3.41.81 4.5 2.09C13.09 3.81 14.76 3 16.5 3 19.58 3 22 5.42 22 8.5c0 3.78-3.4 6.86-8.55 11.54L12 21.35z"/></svg>50<span class="hv">37 ms</span></span><span class="st"><svg class="ic" width="20" height="20" viewBox="0 0 24 24" style="" fill="#4b9040"><path d="M10.74,11.72C11.21,12.95 11.16,14.23 9.75,14.74C6.85,15.81 6.2,13 6.16,12.86L10.74,11.72M5.71,10.91L10.03,9.84C9.84,8.79 10.13,7.74 10.13,6.5C10.13,4.82 8.8,1.53 6.68,2.06C4.26,2.66 3.91,5.35 4,6.65C4.12,7.95 5.64,10.73 5.71,10.91M17.85,19.85C17.82,20 17.16,22.8 14.26,21.74C12.86,21.22 12.8,19.94 13.27,18.71L17.85,19.85M20,13.65C20.1,12.35 19.76,9.65 17.33,9.05C15.22,8.5 13.89,11.81 13.89,13.5C13.89,14.73 14.17,15.78 14,16.83L18.3,17.9C18.38,17.72 19.89,14.94 20,13.65Z"/></svg>12272</span></div></div></div>
<div class="dc " style="left:1033px;width:206px"><div class="dh"><div class="dd">Sa. 10 Aug.</div><div class="dl"><svg class="ic mo" width="14.500" height="16" viewBox="0 0 15 16.400"><path d="M.5 .6A9.060 9.060 0 1 1 .5 15.800A7.690 7.690 0 0 0 .5 .6Z" fill="#2b2b2b"/></svg><span class="sl">4h58m</span> <span class="sl">64</span> <span style="color:#ee9a52">Q3</span> <span class="kg">74kg</span></div><div class="dl"><span class="hr"><svg class="ic" width="21" height="21" viewBox="0 0 24 24" style="" fill="#a03358"><path d="M12 21.35l-1.45-1.32C5.4 15.36 2 12.28 2 8.5 2 5.42 4.42 3 7.5 3c1.74 0 3.41.81 4.5 2.09C13.09 3.81 14.76 3 16.5 3 19.58 3 22 5.42 22 8.5c0 3.78-3.4 6.86-8.55 11.54L12 21.35z"/></svg>50<span class="hv">36 ms</span></span><span class="st"><svg class="ic" width="20" height="20" viewBox="0 0 24 24" style="" fill="#4b9040"><path d="M10.74,11.72C11.21,12.95 11.16,14.23 9.75,14.74C6.85,15.81 6.2,13 6.16,12.86L10.74,11.72M5.71,10.91L10.03,9.84C9.84,8.79 10.13,7.74 10.13,6.5C10.13,4.82 8.8,1.53 6.68,2.06C4.26,2.66 3.91,5.35 4,6.65C4.12,7.95 5.64,10.73 5.71,10.91M17.85,19.85C17.82,20 17.16,22.8 14.26,21.74C12.86,21.22 12.8,19.94 13.27,18.71L17.85,19.85M20,13.65C20.1,12.35 19.76,9.65 17.33,9.05C15.22,8.5 13.89,11.81 13.89,13.5C13.89,14.73 14.17,15.78 14,16.83L18.3,17.9C18.38,17.72 19.89,14.94 20,13.65Z"/></svg>9805</span></div></div><div class="cds"><div class="cd bike"><div class="ch1"><svg class="ic" width="24" height="24" viewBox="0 0 24 24" style="" fill="#fff"><path d="M15.5 5.5c1.1 0 2-.9 2-2s-.9-2-2-2-2 .9-2 2 .9 2 2 2zM5 12c-2.8 0-5 2.2-5 5s2.2 5 5 5 5-2.2 5-5-2.2-5-5-5zm0 8.5c-1.9 0-3.5-1.6-3.5-3.5s1.6-3.5 3.5-3.5 3.5 1.6 3.5 3.5-1.6 3.5-3.5 3.5zm5.8-10l2.4-2.4.8.8c1.3 1.3 3 2.1 5.1 2.1V9c-1.5 0-2.7-.6-3.6-1.5l-1.9-1.9c-.5-.4-1-.6-1.6-.6s-1.1.2-1.4.6L7.800 8.400c-.4.4-.6.9-.6 1.4 0 .6.2 1.100.6 1.400L11 14v5h2v-6.200l-2.200-2.300zM19 12c-2.800 0-5 2.200-5 5s2.200 5 5 5 5-2.200 5-5-2.200-5-5-5zm0 8.500c-1.900 0-3.500-1.600-3.500-3.500s1.600-3.500 3.500-3.500 3.500 1.600 3.500 3.500-1.600 3.500-3.500 3.500z"/></svg><div class="tx"><span class="du">3h32m</span><span class="di">97km</span></div></div><div class="cb"><div class="ln"><span class="bp">128bpm</span></div><div class="ln"><span class="ld">Belastung 152</span></div><svg class="ch bk" height="46" viewBox="0 0 186 46" preserveAspectRatio="none"><line x1="0" x2="186" y1="1.500" y2="1.500" stroke="#d4ccd2" stroke-dasharray="3 3"/><rect x="0" y="10.300" width="186" height="34.5" fill="#6dbb60"/></svg></div></div></div></div>
<div class="dc " style="left:1239px;width:206px"><div class="dh"><div class="dd">So. 11 Aug.</div><div class="dl"><svg class="ic mo" width="14.500" height="16" viewBox="0 0 15 16.400"><path d="M.5 .6A9.060 9.060 0 1 1 .5 15.800A7.690 7.690 0 0 0 .5 .6Z" fill="#2b2b2b"/></svg><span class="sl">8h</span> <span class="sl">76</span> <span style="color:#ee9a52">Q3</span> <span class="kg">74kg</span></div><div class="dl"><span class="hr"><svg class="ic" width="21" height="21" viewBox="0 0 24 24" style="" fill="#a03358"><path d="M12 21.35l-1.45-1.32C5.4 15.36 2 12.28 2 8.5 2 5.42 4.42 3 7.5 3c1.74 0 3.41.81 4.5 2.09C13.09 3.81 14.76 3 16.5 3 19.58 3 22 5.42 22 8.5c0 3.78-3.4 6.86-8.55 11.54L12 21.35z"/></svg>49<span class="hv">42 ms</span></span><span class="rd"><svg class="ic" width="19" height="19" viewBox="0 0 24 24" style="" fill="#5aa9e0"><path d="M15.11 12.45L14 10.24l-3.11 6.21c-.17.34-.51.55-.89.55s-.72-.21-.89-.55L7.38 13H2v5c0 1.1.9 2 2 2h16c1.1 0 2-.9 2-2v-5h-6c-.38 0-.72-.21-.89-.55zM20 4H4c-1.1 0-2 .9-2 2v5h6c.38 0 .72.21.89.55L10 13.76l3.11-6.210c.34-.68 1.45-.68 1.79 0L16.620 11H22V6c0-1.100-.9-2-2-2z"/></svg>57</span></div><div class="dl"><span class="st" style="margin-left:0"><svg class="ic" width="20" height="20" viewBox="0 0 24 24" style="" fill="#4b9040"><path d="M10.74,11.72C11.21,12.95 11.16,14.23 9.75,14.74C6.85,15.81 6.2,13 6.16,12.86L10.74,11.72M5.71,10.91L10.03,9.84C9.84,8.79 10.13,7.74 10.13,6.5C10.13,4.82 8.8,1.53 6.68,2.06C4.26,2.66 3.91,5.35 4,6.65C4.12,7.95 5.64,10.73 5.71,10.91M17.85,19.85C17.82,20 17.16,22.8 14.26,21.74C12.86,21.22 12.8,19.94 13.27,18.71L17.85,19.85M20,13.65C20.1,12.35 19.76,9.65 17.33,9.05C15.22,8.5 13.89,11.81 13.89,13.5C13.89,14.73 14.17,15.78 14,16.83L18.3,17.9C18.38,17.72 19.89,14.94 20,13.65Z"/></svg>13796</span></div></div><div class="cds"><div class="cd run"><div class="ch1"><svg class="ic" width="24" height="24" viewBox="0 0 24 24" style="" fill="#fff"><path d="M13.49 5.48c1.1 0 2-.9 2-2s-.9-2-2-2-2 .9-2 2 .9 2 2 2zm-3.600 13.900l1-4.400 2.100 2v6h2v-7.500l-2.100-2 .6-3c1.300 1.500 3.300 2.500 5.500 2.500v-2c-1.900 0-3.500-1-4.300-2.400l-1-1.600c-.4-.6-1-1-1.700-1-.3 0-.5.100-.8.100l-5.200 2.200v4.700h2v-3.400l1.800-.7-1.600 8.100-4.900-1-.4 2 7 1.400z"/></svg><div class="tx"><span class="du">47m</span><span class="di">8.5km</span></div></div><div class="cb"><div class="ln bw"><span class="bp">133bpm</span> <span class="pc">270w</span></div><div class="ln"><span class="pc">5:31/km</span></div></div></div></div></div>
</div>
</div></div>
</body></html>
